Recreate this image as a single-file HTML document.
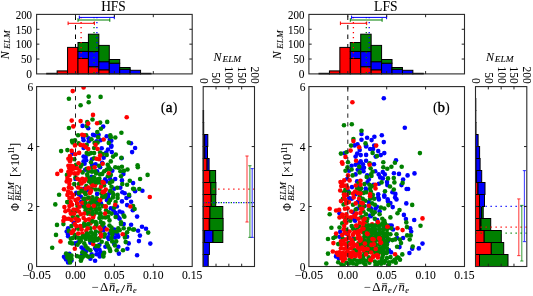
<!DOCTYPE html>
<html><head><meta charset="utf-8"><style>
html,body{margin:0;padding:0;background:#fff;}
svg{display:block;font-family:"Liberation Serif", serif;will-change:transform;}
text{stroke:#000;stroke-width:0.06px;}
</style></head><body>
<svg xmlns="http://www.w3.org/2000/svg" width="533" height="296" viewBox="0 0 533 296" shape-rendering="auto">
<rect width="533" height="296" fill="#fff"/>
<text x="113.50" y="10.60" font-size="14.2" text-anchor="middle" textLength="24.6" lengthAdjust="spacingAndGlyphs" style="">HFS</text>
<line x1="75.50" y1="14.40" x2="75.50" y2="73.90" stroke="#000" stroke-width="1.0" stroke-dasharray="4.5 5.0" stroke-dashoffset="8.4"/>
<rect x="46.70" y="73.30" width="10.43" height="0.60" fill="#ff0000" stroke="#000" stroke-width="1.0"/>
<rect x="57.13" y="70.90" width="10.43" height="3.00" fill="#ff0000" stroke="#000" stroke-width="1.0"/>
<rect x="67.56" y="47.40" width="10.43" height="26.50" fill="#ff0000" stroke="#000" stroke-width="1.0"/>
<rect x="77.99" y="58.50" width="10.43" height="15.40" fill="#ff0000" stroke="#000" stroke-width="1.0"/>
<rect x="77.99" y="51.40" width="10.43" height="7.10" fill="#0000ff" stroke="#000" stroke-width="1.0"/>
<rect x="77.99" y="42.50" width="10.43" height="8.90" fill="#008000" stroke="#000" stroke-width="1.0"/>
<rect x="88.42" y="66.70" width="10.43" height="7.20" fill="#ff0000" stroke="#000" stroke-width="1.0"/>
<rect x="88.42" y="51.60" width="10.43" height="15.10" fill="#0000ff" stroke="#000" stroke-width="1.0"/>
<rect x="88.42" y="34.20" width="10.43" height="17.40" fill="#008000" stroke="#000" stroke-width="1.0"/>
<rect x="98.85" y="69.80" width="10.43" height="4.10" fill="#ff0000" stroke="#000" stroke-width="1.0"/>
<rect x="98.85" y="61.70" width="10.43" height="8.10" fill="#0000ff" stroke="#000" stroke-width="1.0"/>
<rect x="98.85" y="45.40" width="10.43" height="16.30" fill="#008000" stroke="#000" stroke-width="1.0"/>
<rect x="109.28" y="63.20" width="10.43" height="10.70" fill="#0000ff" stroke="#000" stroke-width="1.0"/>
<rect x="109.28" y="59.50" width="10.43" height="3.70" fill="#008000" stroke="#000" stroke-width="1.0"/>
<rect x="119.71" y="69.30" width="10.43" height="4.60" fill="#0000ff" stroke="#000" stroke-width="1.0"/>
<rect x="119.71" y="67.50" width="10.43" height="1.80" fill="#008000" stroke="#000" stroke-width="1.0"/>
<rect x="130.14" y="70.30" width="10.43" height="3.60" fill="#0000ff" stroke="#000" stroke-width="1.0"/>
<rect x="140.57" y="73.30" width="10.43" height="0.60" fill="#0000ff" stroke="#000" stroke-width="1.0"/>
<line x1="81.10" y1="14.40" x2="81.10" y2="73.90" stroke="#ff0000" stroke-width="1.3" stroke-dasharray="1.3 3.7" stroke-dashoffset="2.4"/>
<line x1="94.00" y1="14.40" x2="94.00" y2="73.90" stroke="#008000" stroke-width="1.3" stroke-dasharray="1.3 3.7" stroke-dashoffset="2.4"/>
<line x1="96.90" y1="14.40" x2="96.90" y2="73.90" stroke="#0000ff" stroke-width="1.3" stroke-dasharray="1.3 3.7" stroke-dashoffset="2.4"/>
<line x1="79.30" y1="17.40" x2="114.30" y2="17.40" stroke="#0000ff" stroke-width="1.0" />
<line x1="79.30" y1="15.60" x2="79.30" y2="19.20" stroke="#0000ff" stroke-width="1.0" />
<line x1="114.30" y1="15.60" x2="114.30" y2="19.20" stroke="#0000ff" stroke-width="1.0" />
<line x1="78.00" y1="20.00" x2="109.80" y2="20.00" stroke="#008000" stroke-width="1.0" />
<line x1="78.00" y1="18.20" x2="78.00" y2="21.80" stroke="#008000" stroke-width="1.0" />
<line x1="109.80" y1="18.20" x2="109.80" y2="21.80" stroke="#008000" stroke-width="1.0" />
<line x1="68.10" y1="23.30" x2="94.40" y2="23.30" stroke="#ff0000" stroke-width="1.0" />
<line x1="68.10" y1="21.50" x2="68.10" y2="25.10" stroke="#ff0000" stroke-width="1.0" />
<line x1="94.40" y1="21.50" x2="94.40" y2="25.10" stroke="#ff0000" stroke-width="1.0" />
<rect x="36.60" y="14.40" width="155.60" height="59.50" fill="none" stroke="#2a2a2a" stroke-width="1.1"/>
<line x1="36.60" y1="59.03" x2="39.40" y2="59.03" stroke="#222" stroke-width="1.0" />
<line x1="192.20" y1="59.03" x2="189.40" y2="59.03" stroke="#222" stroke-width="1.0" />
<line x1="36.60" y1="44.15" x2="39.40" y2="44.15" stroke="#222" stroke-width="1.0" />
<line x1="192.20" y1="44.15" x2="189.40" y2="44.15" stroke="#222" stroke-width="1.0" />
<line x1="36.60" y1="29.27" x2="39.40" y2="29.27" stroke="#222" stroke-width="1.0" />
<line x1="192.20" y1="29.27" x2="189.40" y2="29.27" stroke="#222" stroke-width="1.0" />
<line x1="75.50" y1="14.40" x2="75.50" y2="17.20" stroke="#222" stroke-width="1.0" />
<line x1="75.50" y1="73.90" x2="75.50" y2="71.10" stroke="#222" stroke-width="1.0" />
<line x1="114.40" y1="14.40" x2="114.40" y2="17.20" stroke="#222" stroke-width="1.0" />
<line x1="114.40" y1="73.90" x2="114.40" y2="71.10" stroke="#222" stroke-width="1.0" />
<line x1="153.30" y1="14.40" x2="153.30" y2="17.20" stroke="#222" stroke-width="1.0" />
<line x1="153.30" y1="73.90" x2="153.30" y2="71.10" stroke="#222" stroke-width="1.0" />
<text x="32.10" y="78.20" font-size="11.5" text-anchor="end"  style="">0</text>
<text x="32.10" y="63.33" font-size="11.5" text-anchor="end" textLength="11" lengthAdjust="spacingAndGlyphs" style="">50</text>
<text x="32.10" y="48.45" font-size="11.5" text-anchor="end" textLength="16.4" lengthAdjust="spacingAndGlyphs" style="">100</text>
<text x="32.10" y="33.57" font-size="11.5" text-anchor="end" textLength="16.4" lengthAdjust="spacingAndGlyphs" style="">150</text>
<text x="32.10" y="18.70" font-size="11.5" text-anchor="end" textLength="16.4" lengthAdjust="spacingAndGlyphs" style="">200</text>
<g transform="translate(8.90,59.5) rotate(-90)" font-style="italic"><text x="0.3" y="0" font-size="12">N</text><text x="10.6" y="1.4" font-size="8.6" textLength="18.6" lengthAdjust="spacingAndGlyphs">ELM</text></g>
<clipPath id="cL"><rect x="36.60" y="86.60" width="155.60" height="179.90"/></clipPath>
<g clip-path="url(#cL)">
<circle cx="82.6" cy="125.9" r="2.3" fill="#0000ff"/>
<circle cx="88.2" cy="128.2" r="2.3" fill="#0000ff"/>
<circle cx="83.1" cy="137.8" r="2.3" fill="#0000ff"/>
<circle cx="83.6" cy="140.3" r="2.3" fill="#0000ff"/>
<circle cx="88.7" cy="138.3" r="2.3" fill="#0000ff"/>
<circle cx="88.7" cy="141.3" r="2.3" fill="#0000ff"/>
<circle cx="103.2" cy="126.6" r="2.3" fill="#0000ff"/>
<circle cx="93.0" cy="134.8" r="2.3" fill="#0000ff"/>
<circle cx="94.6" cy="135.3" r="2.3" fill="#0000ff"/>
<circle cx="98.6" cy="134.8" r="2.3" fill="#0000ff"/>
<circle cx="106.7" cy="136.3" r="2.3" fill="#0000ff"/>
<circle cx="100.6" cy="140.3" r="2.3" fill="#0000ff"/>
<circle cx="109.8" cy="139.8" r="2.3" fill="#0000ff"/>
<circle cx="111.3" cy="140.8" r="2.3" fill="#0000ff"/>
<circle cx="96.6" cy="141.3" r="2.3" fill="#0000ff"/>
<circle cx="131.0" cy="143.2" r="2.3" fill="#0000ff"/>
<circle cx="111.3" cy="145.6" r="2.3" fill="#0000ff"/>
<circle cx="83.6" cy="156.6" r="2.3" fill="#0000ff"/>
<circle cx="85.7" cy="157.1" r="2.3" fill="#0000ff"/>
<circle cx="83.6" cy="161.2" r="2.3" fill="#0000ff"/>
<circle cx="86.2" cy="160.2" r="2.3" fill="#0000ff"/>
<circle cx="84.6" cy="163.7" r="2.3" fill="#0000ff"/>
<circle cx="83.6" cy="148.0" r="2.3" fill="#0000ff"/>
<circle cx="72.5" cy="153.6" r="2.3" fill="#0000ff"/>
<circle cx="85.2" cy="169.8" r="2.3" fill="#0000ff"/>
<circle cx="101.7" cy="148.2" r="2.3" fill="#0000ff"/>
<circle cx="108.0" cy="149.5" r="2.3" fill="#0000ff"/>
<circle cx="111.3" cy="146.8" r="2.3" fill="#0000ff"/>
<circle cx="111.8" cy="152.1" r="2.3" fill="#0000ff"/>
<circle cx="106.2" cy="152.6" r="2.3" fill="#0000ff"/>
<circle cx="103.7" cy="157.7" r="2.3" fill="#0000ff"/>
<circle cx="92.0" cy="159.2" r="2.3" fill="#0000ff"/>
<circle cx="121.6" cy="158.2" r="2.3" fill="#0000ff"/>
<circle cx="135.1" cy="148.0" r="2.3" fill="#0000ff"/>
<circle cx="132.1" cy="152.1" r="2.3" fill="#0000ff"/>
<circle cx="102.2" cy="162.7" r="2.3" fill="#0000ff"/>
<circle cx="92.0" cy="164.8" r="2.3" fill="#0000ff"/>
<circle cx="95.6" cy="164.2" r="2.3" fill="#0000ff"/>
<circle cx="100.1" cy="167.3" r="2.3" fill="#0000ff"/>
<circle cx="112.3" cy="170.8" r="2.3" fill="#0000ff"/>
<circle cx="123.4" cy="173.9" r="2.3" fill="#0000ff"/>
<circle cx="97.1" cy="171.3" r="2.3" fill="#0000ff"/>
<circle cx="75.5" cy="179.0" r="2.3" fill="#0000ff"/>
<circle cx="91.7" cy="176.7" r="2.3" fill="#0000ff"/>
<circle cx="88.0" cy="190.2" r="2.3" fill="#0000ff"/>
<circle cx="84.0" cy="188.8" r="2.3" fill="#0000ff"/>
<circle cx="76.2" cy="192.9" r="2.3" fill="#0000ff"/>
<circle cx="78.9" cy="194.2" r="2.3" fill="#0000ff"/>
<circle cx="97.1" cy="193.9" r="2.3" fill="#0000ff"/>
<circle cx="80.9" cy="196.7" r="2.3" fill="#0000ff"/>
<circle cx="81.3" cy="201.7" r="2.3" fill="#0000ff"/>
<circle cx="82.3" cy="205.5" r="2.3" fill="#0000ff"/>
<circle cx="96.5" cy="200.7" r="2.3" fill="#0000ff"/>
<circle cx="105.1" cy="179.4" r="2.3" fill="#0000ff"/>
<circle cx="106.4" cy="181.4" r="2.3" fill="#0000ff"/>
<circle cx="110.2" cy="179.0" r="2.3" fill="#0000ff"/>
<circle cx="115.2" cy="179.0" r="2.3" fill="#0000ff"/>
<circle cx="114.2" cy="188.8" r="2.3" fill="#0000ff"/>
<circle cx="109.5" cy="192.9" r="2.3" fill="#0000ff"/>
<circle cx="120.3" cy="187.8" r="2.3" fill="#0000ff"/>
<circle cx="122.0" cy="180.4" r="2.3" fill="#0000ff"/>
<circle cx="133.1" cy="183.1" r="2.3" fill="#0000ff"/>
<circle cx="122.3" cy="192.2" r="2.3" fill="#0000ff"/>
<circle cx="124.7" cy="193.2" r="2.3" fill="#0000ff"/>
<circle cx="107.8" cy="195.3" r="2.3" fill="#0000ff"/>
<circle cx="101.0" cy="203.4" r="2.3" fill="#0000ff"/>
<circle cx="106.8" cy="200.1" r="2.3" fill="#0000ff"/>
<circle cx="108.1" cy="197.4" r="2.3" fill="#0000ff"/>
<circle cx="110.8" cy="208.2" r="2.3" fill="#0000ff"/>
<circle cx="113.5" cy="210.2" r="2.3" fill="#0000ff"/>
<circle cx="115.2" cy="212.9" r="2.3" fill="#0000ff"/>
<circle cx="119.6" cy="211.5" r="2.3" fill="#0000ff"/>
<circle cx="122.3" cy="212.6" r="2.3" fill="#0000ff"/>
<circle cx="116.9" cy="214.9" r="2.3" fill="#0000ff"/>
<circle cx="122.0" cy="201.4" r="2.3" fill="#0000ff"/>
<circle cx="131.1" cy="201.7" r="2.3" fill="#0000ff"/>
<circle cx="127.1" cy="205.1" r="2.3" fill="#0000ff"/>
<circle cx="126.4" cy="198.0" r="2.3" fill="#0000ff"/>
<circle cx="129.1" cy="196.3" r="2.3" fill="#0000ff"/>
<circle cx="116.9" cy="206.5" r="2.3" fill="#0000ff"/>
<circle cx="132.8" cy="210.2" r="2.3" fill="#0000ff"/>
<circle cx="68.1" cy="228.2" r="2.3" fill="#0000ff"/>
<circle cx="66.7" cy="231.5" r="2.3" fill="#0000ff"/>
<circle cx="68.1" cy="234.2" r="2.3" fill="#0000ff"/>
<circle cx="73.8" cy="222.8" r="2.3" fill="#0000ff"/>
<circle cx="95.1" cy="234.2" r="2.3" fill="#0000ff"/>
<circle cx="118.3" cy="217.4" r="2.3" fill="#0000ff"/>
<circle cx="119.6" cy="218.7" r="2.3" fill="#0000ff"/>
<circle cx="123.7" cy="224.1" r="2.3" fill="#0000ff"/>
<circle cx="131.1" cy="224.8" r="2.3" fill="#0000ff"/>
<circle cx="104.4" cy="227.5" r="2.3" fill="#0000ff"/>
<circle cx="103.4" cy="230.2" r="2.3" fill="#0000ff"/>
<circle cx="109.5" cy="233.6" r="2.3" fill="#0000ff"/>
<circle cx="115.6" cy="232.9" r="2.3" fill="#0000ff"/>
<circle cx="117.6" cy="234.9" r="2.3" fill="#0000ff"/>
<circle cx="114.2" cy="229.5" r="2.3" fill="#0000ff"/>
<circle cx="68.1" cy="236.3" r="2.3" fill="#0000ff"/>
<circle cx="75.2" cy="243.4" r="2.3" fill="#0000ff"/>
<circle cx="78.2" cy="242.4" r="2.3" fill="#0000ff"/>
<circle cx="81.6" cy="247.5" r="2.3" fill="#0000ff"/>
<circle cx="83.6" cy="249.5" r="2.3" fill="#0000ff"/>
<circle cx="86.3" cy="250.9" r="2.3" fill="#0000ff"/>
<circle cx="90.4" cy="242.8" r="2.3" fill="#0000ff"/>
<circle cx="95.1" cy="248.2" r="2.3" fill="#0000ff"/>
<circle cx="96.5" cy="250.2" r="2.3" fill="#0000ff"/>
<circle cx="96.5" cy="254.2" r="2.3" fill="#0000ff"/>
<circle cx="91.7" cy="254.2" r="2.3" fill="#0000ff"/>
<circle cx="69.4" cy="253.9" r="2.3" fill="#0000ff"/>
<circle cx="82.3" cy="254.6" r="2.3" fill="#0000ff"/>
<circle cx="108.1" cy="237.4" r="2.3" fill="#0000ff"/>
<circle cx="108.8" cy="239.0" r="2.3" fill="#0000ff"/>
<circle cx="114.9" cy="237.4" r="2.3" fill="#0000ff"/>
<circle cx="118.3" cy="236.7" r="2.3" fill="#0000ff"/>
<circle cx="114.2" cy="244.1" r="2.3" fill="#0000ff"/>
<circle cx="118.3" cy="246.8" r="2.3" fill="#0000ff"/>
<circle cx="105.4" cy="246.8" r="2.3" fill="#0000ff"/>
<circle cx="128.7" cy="243.4" r="2.3" fill="#0000ff"/>
<circle cx="127.4" cy="248.8" r="2.3" fill="#0000ff"/>
<circle cx="118.9" cy="253.6" r="2.3" fill="#0000ff"/>
<circle cx="127.1" cy="236.7" r="2.3" fill="#0000ff"/>
<circle cx="99.4" cy="244.8" r="2.3" fill="#0000ff"/>
<circle cx="99.4" cy="249.5" r="2.3" fill="#0000ff"/>
<circle cx="100.7" cy="252.2" r="2.3" fill="#0000ff"/>
<circle cx="98.7" cy="254.2" r="2.3" fill="#0000ff"/>
<circle cx="64.0" cy="256.8" r="2.3" fill="#0000ff"/>
<circle cx="66.1" cy="259.5" r="2.3" fill="#0000ff"/>
<circle cx="71.5" cy="260.5" r="2.3" fill="#0000ff"/>
<circle cx="68.1" cy="262.5" r="2.3" fill="#0000ff"/>
<circle cx="65.4" cy="258.1" r="2.3" fill="#0000ff"/>
<circle cx="90.4" cy="258.8" r="2.3" fill="#0000ff"/>
<circle cx="95.1" cy="260.8" r="2.3" fill="#0000ff"/>
<circle cx="99.7" cy="256.4" r="2.3" fill="#0000ff"/>
<circle cx="135.1" cy="191.2" r="2.3" fill="#0000ff"/>
<circle cx="142.4" cy="190.7" r="2.3" fill="#0000ff"/>
<circle cx="137.1" cy="216.6" r="2.3" fill="#0000ff"/>
<circle cx="138.1" cy="230.8" r="2.3" fill="#0000ff"/>
<circle cx="142.0" cy="226.8" r="2.3" fill="#0000ff"/>
<circle cx="146.0" cy="228.8" r="2.3" fill="#0000ff"/>
<circle cx="139.9" cy="235.6" r="2.3" fill="#0000ff"/>
<circle cx="138.9" cy="241.1" r="2.3" fill="#0000ff"/>
<circle cx="150.3" cy="243.6" r="2.3" fill="#0000ff"/>
<circle cx="137.1" cy="255.3" r="2.3" fill="#0000ff"/>
<circle cx="68.9" cy="98.7" r="2.3" fill="#008000"/>
<circle cx="80.6" cy="105.3" r="2.3" fill="#008000"/>
<circle cx="88.7" cy="96.6" r="2.3" fill="#008000"/>
<circle cx="88.7" cy="102.2" r="2.3" fill="#008000"/>
<circle cx="100.6" cy="96.9" r="2.3" fill="#008000"/>
<circle cx="68.9" cy="128.0" r="2.3" fill="#008000"/>
<circle cx="87.2" cy="122.1" r="2.3" fill="#008000"/>
<circle cx="86.7" cy="126.1" r="2.3" fill="#008000"/>
<circle cx="78.1" cy="135.3" r="2.3" fill="#008000"/>
<circle cx="86.2" cy="135.3" r="2.3" fill="#008000"/>
<circle cx="72.0" cy="140.8" r="2.3" fill="#008000"/>
<circle cx="75.0" cy="140.3" r="2.3" fill="#008000"/>
<circle cx="72.5" cy="142.4" r="2.3" fill="#008000"/>
<circle cx="78.6" cy="143.4" r="2.3" fill="#008000"/>
<circle cx="86.7" cy="144.9" r="2.3" fill="#008000"/>
<circle cx="92.5" cy="119.5" r="2.3" fill="#008000"/>
<circle cx="100.1" cy="122.6" r="2.3" fill="#008000"/>
<circle cx="107.2" cy="121.9" r="2.3" fill="#008000"/>
<circle cx="100.9" cy="128.7" r="2.3" fill="#008000"/>
<circle cx="97.3" cy="132.0" r="2.3" fill="#008000"/>
<circle cx="98.1" cy="137.3" r="2.3" fill="#008000"/>
<circle cx="91.5" cy="139.3" r="2.3" fill="#008000"/>
<circle cx="110.3" cy="135.3" r="2.3" fill="#008000"/>
<circle cx="110.8" cy="137.3" r="2.3" fill="#008000"/>
<circle cx="115.3" cy="137.5" r="2.3" fill="#008000"/>
<circle cx="108.8" cy="142.9" r="2.3" fill="#008000"/>
<circle cx="94.6" cy="142.9" r="2.3" fill="#008000"/>
<circle cx="97.6" cy="142.6" r="2.3" fill="#008000"/>
<circle cx="121.4" cy="132.7" r="2.3" fill="#008000"/>
<circle cx="128.8" cy="142.6" r="2.3" fill="#008000"/>
<circle cx="61.1" cy="151.1" r="2.3" fill="#008000"/>
<circle cx="67.4" cy="150.1" r="2.3" fill="#008000"/>
<circle cx="74.3" cy="159.2" r="2.3" fill="#008000"/>
<circle cx="86.7" cy="153.1" r="2.3" fill="#008000"/>
<circle cx="88.7" cy="154.1" r="2.3" fill="#008000"/>
<circle cx="76.0" cy="164.8" r="2.3" fill="#008000"/>
<circle cx="81.6" cy="164.8" r="2.3" fill="#008000"/>
<circle cx="80.6" cy="166.8" r="2.3" fill="#008000"/>
<circle cx="66.9" cy="174.9" r="2.3" fill="#008000"/>
<circle cx="86.7" cy="168.8" r="2.3" fill="#008000"/>
<circle cx="88.7" cy="171.3" r="2.3" fill="#008000"/>
<circle cx="87.2" cy="174.4" r="2.3" fill="#008000"/>
<circle cx="82.6" cy="172.4" r="2.3" fill="#008000"/>
<circle cx="94.1" cy="148.0" r="2.3" fill="#008000"/>
<circle cx="106.7" cy="154.9" r="2.3" fill="#008000"/>
<circle cx="91.0" cy="153.1" r="2.3" fill="#008000"/>
<circle cx="94.1" cy="153.1" r="2.3" fill="#008000"/>
<circle cx="100.1" cy="152.6" r="2.3" fill="#008000"/>
<circle cx="102.7" cy="154.1" r="2.3" fill="#008000"/>
<circle cx="94.1" cy="158.2" r="2.3" fill="#008000"/>
<circle cx="113.1" cy="156.6" r="2.3" fill="#008000"/>
<circle cx="115.8" cy="154.6" r="2.3" fill="#008000"/>
<circle cx="121.4" cy="157.7" r="2.3" fill="#008000"/>
<circle cx="110.8" cy="161.4" r="2.3" fill="#008000"/>
<circle cx="91.0" cy="162.2" r="2.3" fill="#008000"/>
<circle cx="99.1" cy="165.8" r="2.3" fill="#008000"/>
<circle cx="92.0" cy="167.8" r="2.3" fill="#008000"/>
<circle cx="107.7" cy="164.8" r="2.3" fill="#008000"/>
<circle cx="108.8" cy="167.3" r="2.3" fill="#008000"/>
<circle cx="106.7" cy="169.8" r="2.3" fill="#008000"/>
<circle cx="104.2" cy="171.3" r="2.3" fill="#008000"/>
<circle cx="110.3" cy="169.3" r="2.3" fill="#008000"/>
<circle cx="115.3" cy="167.3" r="2.3" fill="#008000"/>
<circle cx="118.4" cy="167.8" r="2.3" fill="#008000"/>
<circle cx="121.9" cy="166.8" r="2.3" fill="#008000"/>
<circle cx="120.4" cy="171.3" r="2.3" fill="#008000"/>
<circle cx="124.0" cy="170.8" r="2.3" fill="#008000"/>
<circle cx="127.5" cy="169.5" r="2.3" fill="#008000"/>
<circle cx="137.6" cy="165.3" r="2.3" fill="#008000"/>
<circle cx="137.8" cy="167.3" r="2.3" fill="#008000"/>
<circle cx="95.1" cy="171.3" r="2.3" fill="#008000"/>
<circle cx="96.1" cy="173.4" r="2.3" fill="#008000"/>
<circle cx="100.1" cy="174.4" r="2.3" fill="#008000"/>
<circle cx="92.0" cy="171.8" r="2.3" fill="#008000"/>
<circle cx="102.2" cy="173.9" r="2.3" fill="#008000"/>
<circle cx="110.8" cy="174.9" r="2.3" fill="#008000"/>
<circle cx="147.6" cy="174.9" r="2.3" fill="#008000"/>
<circle cx="59.1" cy="194.8" r="2.3" fill="#008000"/>
<circle cx="55.3" cy="204.4" r="2.3" fill="#008000"/>
<circle cx="67.4" cy="202.1" r="2.3" fill="#008000"/>
<circle cx="75.5" cy="177.4" r="2.3" fill="#008000"/>
<circle cx="74.2" cy="184.1" r="2.3" fill="#008000"/>
<circle cx="78.9" cy="184.1" r="2.3" fill="#008000"/>
<circle cx="86.3" cy="186.1" r="2.3" fill="#008000"/>
<circle cx="89.0" cy="181.4" r="2.3" fill="#008000"/>
<circle cx="93.1" cy="180.1" r="2.3" fill="#008000"/>
<circle cx="94.4" cy="178.0" r="2.3" fill="#008000"/>
<circle cx="87.7" cy="176.7" r="2.3" fill="#008000"/>
<circle cx="95.8" cy="189.5" r="2.3" fill="#008000"/>
<circle cx="97.1" cy="182.8" r="2.3" fill="#008000"/>
<circle cx="78.9" cy="192.9" r="2.3" fill="#008000"/>
<circle cx="85.6" cy="194.2" r="2.3" fill="#008000"/>
<circle cx="91.7" cy="188.2" r="2.3" fill="#008000"/>
<circle cx="67.4" cy="202.1" r="2.3" fill="#008000"/>
<circle cx="72.1" cy="211.9" r="2.3" fill="#008000"/>
<circle cx="77.5" cy="206.1" r="2.3" fill="#008000"/>
<circle cx="76.2" cy="210.9" r="2.3" fill="#008000"/>
<circle cx="83.6" cy="198.7" r="2.3" fill="#008000"/>
<circle cx="84.3" cy="206.8" r="2.3" fill="#008000"/>
<circle cx="85.6" cy="210.2" r="2.3" fill="#008000"/>
<circle cx="90.4" cy="202.1" r="2.3" fill="#008000"/>
<circle cx="94.4" cy="201.4" r="2.3" fill="#008000"/>
<circle cx="95.8" cy="204.8" r="2.3" fill="#008000"/>
<circle cx="95.8" cy="209.5" r="2.3" fill="#008000"/>
<circle cx="92.4" cy="211.5" r="2.3" fill="#008000"/>
<circle cx="87.7" cy="213.6" r="2.3" fill="#008000"/>
<circle cx="97.1" cy="198.7" r="2.3" fill="#008000"/>
<circle cx="92.4" cy="197.4" r="2.3" fill="#008000"/>
<circle cx="99.4" cy="178.7" r="2.3" fill="#008000"/>
<circle cx="100.7" cy="182.8" r="2.3" fill="#008000"/>
<circle cx="99.4" cy="189.5" r="2.3" fill="#008000"/>
<circle cx="101.4" cy="193.6" r="2.3" fill="#008000"/>
<circle cx="104.1" cy="185.5" r="2.3" fill="#008000"/>
<circle cx="105.4" cy="194.9" r="2.3" fill="#008000"/>
<circle cx="107.8" cy="176.3" r="2.3" fill="#008000"/>
<circle cx="109.5" cy="176.0" r="2.3" fill="#008000"/>
<circle cx="112.2" cy="181.4" r="2.3" fill="#008000"/>
<circle cx="109.8" cy="183.1" r="2.3" fill="#008000"/>
<circle cx="111.5" cy="186.8" r="2.3" fill="#008000"/>
<circle cx="110.2" cy="190.9" r="2.3" fill="#008000"/>
<circle cx="112.5" cy="192.6" r="2.3" fill="#008000"/>
<circle cx="113.5" cy="194.9" r="2.3" fill="#008000"/>
<circle cx="117.3" cy="187.8" r="2.3" fill="#008000"/>
<circle cx="121.0" cy="176.3" r="2.3" fill="#008000"/>
<circle cx="122.3" cy="184.1" r="2.3" fill="#008000"/>
<circle cx="129.8" cy="180.7" r="2.3" fill="#008000"/>
<circle cx="127.1" cy="184.8" r="2.3" fill="#008000"/>
<circle cx="133.1" cy="188.8" r="2.3" fill="#008000"/>
<circle cx="117.6" cy="194.9" r="2.3" fill="#008000"/>
<circle cx="129.1" cy="194.9" r="2.3" fill="#008000"/>
<circle cx="98.7" cy="204.1" r="2.3" fill="#008000"/>
<circle cx="99.4" cy="209.5" r="2.3" fill="#008000"/>
<circle cx="100.0" cy="214.2" r="2.3" fill="#008000"/>
<circle cx="102.1" cy="197.4" r="2.3" fill="#008000"/>
<circle cx="104.8" cy="196.7" r="2.3" fill="#008000"/>
<circle cx="102.7" cy="206.1" r="2.3" fill="#008000"/>
<circle cx="108.8" cy="202.8" r="2.3" fill="#008000"/>
<circle cx="110.2" cy="200.1" r="2.3" fill="#008000"/>
<circle cx="112.9" cy="197.4" r="2.3" fill="#008000"/>
<circle cx="117.6" cy="198.0" r="2.3" fill="#008000"/>
<circle cx="106.1" cy="210.2" r="2.3" fill="#008000"/>
<circle cx="108.8" cy="212.2" r="2.3" fill="#008000"/>
<circle cx="111.5" cy="213.6" r="2.3" fill="#008000"/>
<circle cx="115.6" cy="202.1" r="2.3" fill="#008000"/>
<circle cx="114.2" cy="207.5" r="2.3" fill="#008000"/>
<circle cx="123.7" cy="215.6" r="2.3" fill="#008000"/>
<circle cx="133.1" cy="206.1" r="2.3" fill="#008000"/>
<circle cx="63.4" cy="224.1" r="2.3" fill="#008000"/>
<circle cx="71.5" cy="226.1" r="2.3" fill="#008000"/>
<circle cx="72.8" cy="216.7" r="2.3" fill="#008000"/>
<circle cx="77.5" cy="216.7" r="2.3" fill="#008000"/>
<circle cx="78.2" cy="228.8" r="2.3" fill="#008000"/>
<circle cx="84.3" cy="223.4" r="2.3" fill="#008000"/>
<circle cx="82.9" cy="226.1" r="2.3" fill="#008000"/>
<circle cx="85.6" cy="225.5" r="2.3" fill="#008000"/>
<circle cx="68.8" cy="230.9" r="2.3" fill="#008000"/>
<circle cx="95.8" cy="222.1" r="2.3" fill="#008000"/>
<circle cx="95.8" cy="226.1" r="2.3" fill="#008000"/>
<circle cx="95.8" cy="231.5" r="2.3" fill="#008000"/>
<circle cx="91.1" cy="232.2" r="2.3" fill="#008000"/>
<circle cx="87.7" cy="234.2" r="2.3" fill="#008000"/>
<circle cx="93.8" cy="234.2" r="2.3" fill="#008000"/>
<circle cx="74.8" cy="234.9" r="2.3" fill="#008000"/>
<circle cx="85.0" cy="235.6" r="2.3" fill="#008000"/>
<circle cx="90.4" cy="228.2" r="2.3" fill="#008000"/>
<circle cx="99.4" cy="218.0" r="2.3" fill="#008000"/>
<circle cx="102.1" cy="217.4" r="2.3" fill="#008000"/>
<circle cx="105.4" cy="217.4" r="2.3" fill="#008000"/>
<circle cx="108.1" cy="216.7" r="2.3" fill="#008000"/>
<circle cx="109.5" cy="220.4" r="2.3" fill="#008000"/>
<circle cx="100.7" cy="222.1" r="2.3" fill="#008000"/>
<circle cx="103.4" cy="223.4" r="2.3" fill="#008000"/>
<circle cx="102.1" cy="225.5" r="2.3" fill="#008000"/>
<circle cx="109.5" cy="225.5" r="2.3" fill="#008000"/>
<circle cx="111.5" cy="227.5" r="2.3" fill="#008000"/>
<circle cx="110.8" cy="230.9" r="2.3" fill="#008000"/>
<circle cx="113.5" cy="231.5" r="2.3" fill="#008000"/>
<circle cx="112.2" cy="234.2" r="2.3" fill="#008000"/>
<circle cx="115.6" cy="217.0" r="2.3" fill="#008000"/>
<circle cx="124.4" cy="216.7" r="2.3" fill="#008000"/>
<circle cx="121.0" cy="222.4" r="2.3" fill="#008000"/>
<circle cx="121.0" cy="224.1" r="2.3" fill="#008000"/>
<circle cx="118.3" cy="228.2" r="2.3" fill="#008000"/>
<circle cx="119.6" cy="230.2" r="2.3" fill="#008000"/>
<circle cx="116.9" cy="231.5" r="2.3" fill="#008000"/>
<circle cx="123.7" cy="228.2" r="2.3" fill="#008000"/>
<circle cx="129.1" cy="228.8" r="2.3" fill="#008000"/>
<circle cx="127.1" cy="232.2" r="2.3" fill="#008000"/>
<circle cx="133.1" cy="229.5" r="2.3" fill="#008000"/>
<circle cx="100.0" cy="232.2" r="2.3" fill="#008000"/>
<circle cx="104.8" cy="234.2" r="2.3" fill="#008000"/>
<circle cx="125.0" cy="234.9" r="2.3" fill="#008000"/>
<circle cx="70.8" cy="238.7" r="2.3" fill="#008000"/>
<circle cx="72.8" cy="238.0" r="2.3" fill="#008000"/>
<circle cx="70.1" cy="242.8" r="2.3" fill="#008000"/>
<circle cx="72.1" cy="243.4" r="2.3" fill="#008000"/>
<circle cx="77.5" cy="244.8" r="2.3" fill="#008000"/>
<circle cx="76.2" cy="237.4" r="2.3" fill="#008000"/>
<circle cx="78.9" cy="238.0" r="2.3" fill="#008000"/>
<circle cx="80.9" cy="240.7" r="2.3" fill="#008000"/>
<circle cx="82.3" cy="237.4" r="2.3" fill="#008000"/>
<circle cx="85.6" cy="236.7" r="2.3" fill="#008000"/>
<circle cx="89.0" cy="237.4" r="2.3" fill="#008000"/>
<circle cx="92.4" cy="238.7" r="2.3" fill="#008000"/>
<circle cx="95.1" cy="238.0" r="2.3" fill="#008000"/>
<circle cx="97.1" cy="240.1" r="2.3" fill="#008000"/>
<circle cx="84.3" cy="243.4" r="2.3" fill="#008000"/>
<circle cx="85.6" cy="246.1" r="2.3" fill="#008000"/>
<circle cx="87.7" cy="248.2" r="2.3" fill="#008000"/>
<circle cx="90.4" cy="250.2" r="2.3" fill="#008000"/>
<circle cx="82.3" cy="252.2" r="2.3" fill="#008000"/>
<circle cx="85.0" cy="253.6" r="2.3" fill="#008000"/>
<circle cx="86.3" cy="255.6" r="2.3" fill="#008000"/>
<circle cx="66.1" cy="253.6" r="2.3" fill="#008000"/>
<circle cx="68.1" cy="254.9" r="2.3" fill="#008000"/>
<circle cx="71.5" cy="255.6" r="2.3" fill="#008000"/>
<circle cx="95.8" cy="246.1" r="2.3" fill="#008000"/>
<circle cx="79.6" cy="242.1" r="2.3" fill="#008000"/>
<circle cx="99.4" cy="238.0" r="2.3" fill="#008000"/>
<circle cx="104.1" cy="236.7" r="2.3" fill="#008000"/>
<circle cx="101.7" cy="241.7" r="2.3" fill="#008000"/>
<circle cx="106.8" cy="243.4" r="2.3" fill="#008000"/>
<circle cx="108.1" cy="246.1" r="2.3" fill="#008000"/>
<circle cx="109.5" cy="248.5" r="2.3" fill="#008000"/>
<circle cx="110.2" cy="250.9" r="2.3" fill="#008000"/>
<circle cx="111.5" cy="238.0" r="2.3" fill="#008000"/>
<circle cx="112.2" cy="241.4" r="2.3" fill="#008000"/>
<circle cx="116.2" cy="241.4" r="2.3" fill="#008000"/>
<circle cx="114.9" cy="245.5" r="2.3" fill="#008000"/>
<circle cx="116.6" cy="250.2" r="2.3" fill="#008000"/>
<circle cx="123.0" cy="250.2" r="2.3" fill="#008000"/>
<circle cx="125.0" cy="237.4" r="2.3" fill="#008000"/>
<circle cx="125.7" cy="242.1" r="2.3" fill="#008000"/>
<circle cx="104.1" cy="252.9" r="2.3" fill="#008000"/>
<circle cx="103.1" cy="254.9" r="2.3" fill="#008000"/>
<circle cx="98.3" cy="246.1" r="2.3" fill="#008000"/>
<circle cx="67.4" cy="257.4" r="2.3" fill="#008000"/>
<circle cx="70.8" cy="256.8" r="2.3" fill="#008000"/>
<circle cx="69.4" cy="260.1" r="2.3" fill="#008000"/>
<circle cx="70.1" cy="262.5" r="2.3" fill="#008000"/>
<circle cx="71.5" cy="258.8" r="2.3" fill="#008000"/>
<circle cx="76.9" cy="256.1" r="2.3" fill="#008000"/>
<circle cx="79.6" cy="256.8" r="2.3" fill="#008000"/>
<circle cx="81.6" cy="258.8" r="2.3" fill="#008000"/>
<circle cx="80.9" cy="260.8" r="2.3" fill="#008000"/>
<circle cx="82.9" cy="256.8" r="2.3" fill="#008000"/>
<circle cx="88.4" cy="256.8" r="2.3" fill="#008000"/>
<circle cx="92.4" cy="256.1" r="2.3" fill="#008000"/>
<circle cx="103.4" cy="256.4" r="2.3" fill="#008000"/>
<circle cx="57.0" cy="224.9" r="2.3" fill="#008000"/>
<circle cx="56.0" cy="234.9" r="2.3" fill="#008000"/>
<circle cx="52.2" cy="247.8" r="2.3" fill="#008000"/>
<circle cx="140.1" cy="179.0" r="2.3" fill="#008000"/>
<circle cx="134.1" cy="189.0" r="2.3" fill="#008000"/>
<circle cx="139.3" cy="189.0" r="2.3" fill="#008000"/>
<circle cx="134.6" cy="209.0" r="2.3" fill="#008000"/>
<circle cx="134.1" cy="229.5" r="2.3" fill="#008000"/>
<circle cx="148.2" cy="232.6" r="2.3" fill="#008000"/>
<line x1="75.50" y1="86.60" x2="75.50" y2="266.50" stroke="#222" stroke-width="1.0" stroke-dasharray="4.3 4.42" stroke-dashoffset="8.02"/>
<circle cx="72.7" cy="91.1" r="2.3" fill="#ff0000"/>
<circle cx="83.6" cy="87.5" r="2.3" fill="#ff0000"/>
<circle cx="93.0" cy="114.9" r="2.3" fill="#ff0000"/>
<circle cx="71.7" cy="120.6" r="2.3" fill="#ff0000"/>
<circle cx="80.6" cy="121.1" r="2.3" fill="#ff0000"/>
<circle cx="73.3" cy="126.4" r="2.3" fill="#ff0000"/>
<circle cx="88.2" cy="123.6" r="2.3" fill="#ff0000"/>
<circle cx="82.1" cy="134.8" r="2.3" fill="#ff0000"/>
<circle cx="84.1" cy="135.3" r="2.3" fill="#ff0000"/>
<circle cx="75.0" cy="145.4" r="2.3" fill="#ff0000"/>
<circle cx="80.6" cy="144.9" r="2.3" fill="#ff0000"/>
<circle cx="83.6" cy="145.4" r="2.3" fill="#ff0000"/>
<circle cx="126.7" cy="117.2" r="2.3" fill="#ff0000"/>
<circle cx="97.1" cy="123.3" r="2.3" fill="#ff0000"/>
<circle cx="103.7" cy="139.5" r="2.3" fill="#ff0000"/>
<circle cx="95.6" cy="144.9" r="2.3" fill="#ff0000"/>
<circle cx="71.7" cy="150.9" r="2.3" fill="#ff0000"/>
<circle cx="75.3" cy="154.3" r="2.3" fill="#ff0000"/>
<circle cx="79.1" cy="152.9" r="2.3" fill="#ff0000"/>
<circle cx="70.0" cy="156.1" r="2.3" fill="#ff0000"/>
<circle cx="68.4" cy="158.7" r="2.3" fill="#ff0000"/>
<circle cx="71.0" cy="158.7" r="2.3" fill="#ff0000"/>
<circle cx="70.0" cy="161.2" r="2.3" fill="#ff0000"/>
<circle cx="85.7" cy="147.0" r="2.3" fill="#ff0000"/>
<circle cx="88.2" cy="149.0" r="2.3" fill="#ff0000"/>
<circle cx="78.6" cy="163.2" r="2.3" fill="#ff0000"/>
<circle cx="68.4" cy="165.8" r="2.3" fill="#ff0000"/>
<circle cx="71.0" cy="165.8" r="2.3" fill="#ff0000"/>
<circle cx="73.0" cy="166.3" r="2.3" fill="#ff0000"/>
<circle cx="69.4" cy="168.3" r="2.3" fill="#ff0000"/>
<circle cx="71.5" cy="169.3" r="2.3" fill="#ff0000"/>
<circle cx="73.5" cy="168.8" r="2.3" fill="#ff0000"/>
<circle cx="77.0" cy="168.3" r="2.3" fill="#ff0000"/>
<circle cx="79.6" cy="170.8" r="2.3" fill="#ff0000"/>
<circle cx="77.6" cy="173.4" r="2.3" fill="#ff0000"/>
<circle cx="68.4" cy="171.8" r="2.3" fill="#ff0000"/>
<circle cx="71.0" cy="172.9" r="2.3" fill="#ff0000"/>
<circle cx="69.4" cy="174.9" r="2.3" fill="#ff0000"/>
<circle cx="61.1" cy="170.8" r="2.3" fill="#ff0000"/>
<circle cx="57.3" cy="173.9" r="2.3" fill="#ff0000"/>
<circle cx="88.7" cy="168.3" r="2.3" fill="#ff0000"/>
<circle cx="74.5" cy="173.4" r="2.3" fill="#ff0000"/>
<circle cx="97.6" cy="149.0" r="2.3" fill="#ff0000"/>
<circle cx="100.1" cy="155.6" r="2.3" fill="#ff0000"/>
<circle cx="96.6" cy="158.7" r="2.3" fill="#ff0000"/>
<circle cx="99.1" cy="159.2" r="2.3" fill="#ff0000"/>
<circle cx="102.7" cy="163.7" r="2.3" fill="#ff0000"/>
<circle cx="94.6" cy="167.3" r="2.3" fill="#ff0000"/>
<circle cx="108.8" cy="173.2" r="2.3" fill="#ff0000"/>
<circle cx="64.0" cy="189.2" r="2.3" fill="#ff0000"/>
<circle cx="67.4" cy="178.0" r="2.3" fill="#ff0000"/>
<circle cx="66.7" cy="181.4" r="2.3" fill="#ff0000"/>
<circle cx="70.1" cy="180.1" r="2.3" fill="#ff0000"/>
<circle cx="69.4" cy="184.1" r="2.3" fill="#ff0000"/>
<circle cx="68.8" cy="187.5" r="2.3" fill="#ff0000"/>
<circle cx="71.5" cy="188.2" r="2.3" fill="#ff0000"/>
<circle cx="68.1" cy="191.5" r="2.3" fill="#ff0000"/>
<circle cx="70.8" cy="192.9" r="2.3" fill="#ff0000"/>
<circle cx="67.4" cy="194.9" r="2.3" fill="#ff0000"/>
<circle cx="72.8" cy="194.9" r="2.3" fill="#ff0000"/>
<circle cx="77.5" cy="178.7" r="2.3" fill="#ff0000"/>
<circle cx="79.6" cy="180.1" r="2.3" fill="#ff0000"/>
<circle cx="82.3" cy="178.7" r="2.3" fill="#ff0000"/>
<circle cx="84.3" cy="181.4" r="2.3" fill="#ff0000"/>
<circle cx="85.6" cy="179.4" r="2.3" fill="#ff0000"/>
<circle cx="81.6" cy="183.4" r="2.3" fill="#ff0000"/>
<circle cx="78.2" cy="187.5" r="2.3" fill="#ff0000"/>
<circle cx="80.9" cy="188.8" r="2.3" fill="#ff0000"/>
<circle cx="82.3" cy="191.5" r="2.3" fill="#ff0000"/>
<circle cx="85.6" cy="188.8" r="2.3" fill="#ff0000"/>
<circle cx="88.4" cy="187.5" r="2.3" fill="#ff0000"/>
<circle cx="91.1" cy="190.5" r="2.3" fill="#ff0000"/>
<circle cx="90.4" cy="192.2" r="2.3" fill="#ff0000"/>
<circle cx="91.7" cy="184.1" r="2.3" fill="#ff0000"/>
<circle cx="95.1" cy="185.5" r="2.3" fill="#ff0000"/>
<circle cx="64.4" cy="207.1" r="2.3" fill="#ff0000"/>
<circle cx="65.4" cy="211.2" r="2.3" fill="#ff0000"/>
<circle cx="69.4" cy="198.0" r="2.3" fill="#ff0000"/>
<circle cx="72.1" cy="197.4" r="2.3" fill="#ff0000"/>
<circle cx="70.8" cy="202.1" r="2.3" fill="#ff0000"/>
<circle cx="69.4" cy="206.1" r="2.3" fill="#ff0000"/>
<circle cx="68.8" cy="210.2" r="2.3" fill="#ff0000"/>
<circle cx="72.1" cy="204.8" r="2.3" fill="#ff0000"/>
<circle cx="73.5" cy="209.5" r="2.3" fill="#ff0000"/>
<circle cx="70.8" cy="213.6" r="2.3" fill="#ff0000"/>
<circle cx="74.2" cy="213.6" r="2.3" fill="#ff0000"/>
<circle cx="75.5" cy="200.1" r="2.3" fill="#ff0000"/>
<circle cx="78.2" cy="198.7" r="2.3" fill="#ff0000"/>
<circle cx="77.5" cy="203.4" r="2.3" fill="#ff0000"/>
<circle cx="79.6" cy="206.8" r="2.3" fill="#ff0000"/>
<circle cx="76.9" cy="209.5" r="2.3" fill="#ff0000"/>
<circle cx="78.9" cy="211.5" r="2.3" fill="#ff0000"/>
<circle cx="80.9" cy="214.2" r="2.3" fill="#ff0000"/>
<circle cx="82.3" cy="202.8" r="2.3" fill="#ff0000"/>
<circle cx="84.3" cy="202.8" r="2.3" fill="#ff0000"/>
<circle cx="86.3" cy="199.0" r="2.3" fill="#ff0000"/>
<circle cx="89.7" cy="198.4" r="2.3" fill="#ff0000"/>
<circle cx="89.0" cy="206.1" r="2.3" fill="#ff0000"/>
<circle cx="89.4" cy="209.5" r="2.3" fill="#ff0000"/>
<circle cx="93.8" cy="206.1" r="2.3" fill="#ff0000"/>
<circle cx="84.3" cy="213.6" r="2.3" fill="#ff0000"/>
<circle cx="90.4" cy="214.2" r="2.3" fill="#ff0000"/>
<circle cx="93.8" cy="214.9" r="2.3" fill="#ff0000"/>
<circle cx="103.7" cy="182.8" r="2.3" fill="#ff0000"/>
<circle cx="101.0" cy="186.8" r="2.3" fill="#ff0000"/>
<circle cx="105.8" cy="189.5" r="2.3" fill="#ff0000"/>
<circle cx="102.7" cy="191.9" r="2.3" fill="#ff0000"/>
<circle cx="104.4" cy="191.5" r="2.3" fill="#ff0000"/>
<circle cx="100.0" cy="200.1" r="2.3" fill="#ff0000"/>
<circle cx="105.8" cy="206.5" r="2.3" fill="#ff0000"/>
<circle cx="105.1" cy="213.6" r="2.3" fill="#ff0000"/>
<circle cx="115.2" cy="204.8" r="2.3" fill="#ff0000"/>
<circle cx="130.4" cy="206.5" r="2.3" fill="#ff0000"/>
<circle cx="64.0" cy="217.4" r="2.3" fill="#ff0000"/>
<circle cx="66.1" cy="218.7" r="2.3" fill="#ff0000"/>
<circle cx="63.4" cy="220.7" r="2.3" fill="#ff0000"/>
<circle cx="68.8" cy="218.7" r="2.3" fill="#ff0000"/>
<circle cx="71.5" cy="220.1" r="2.3" fill="#ff0000"/>
<circle cx="75.5" cy="218.7" r="2.3" fill="#ff0000"/>
<circle cx="77.5" cy="220.7" r="2.3" fill="#ff0000"/>
<circle cx="74.8" cy="224.1" r="2.3" fill="#ff0000"/>
<circle cx="76.2" cy="226.1" r="2.3" fill="#ff0000"/>
<circle cx="78.9" cy="220.1" r="2.3" fill="#ff0000"/>
<circle cx="80.2" cy="226.1" r="2.3" fill="#ff0000"/>
<circle cx="81.6" cy="229.5" r="2.3" fill="#ff0000"/>
<circle cx="82.3" cy="233.6" r="2.3" fill="#ff0000"/>
<circle cx="78.2" cy="233.6" r="2.3" fill="#ff0000"/>
<circle cx="72.8" cy="231.5" r="2.3" fill="#ff0000"/>
<circle cx="71.5" cy="232.9" r="2.3" fill="#ff0000"/>
<circle cx="73.5" cy="230.2" r="2.3" fill="#ff0000"/>
<circle cx="83.6" cy="218.0" r="2.3" fill="#ff0000"/>
<circle cx="85.6" cy="220.1" r="2.3" fill="#ff0000"/>
<circle cx="89.0" cy="219.4" r="2.3" fill="#ff0000"/>
<circle cx="91.7" cy="221.4" r="2.3" fill="#ff0000"/>
<circle cx="90.4" cy="223.4" r="2.3" fill="#ff0000"/>
<circle cx="87.7" cy="228.2" r="2.3" fill="#ff0000"/>
<circle cx="86.3" cy="230.9" r="2.3" fill="#ff0000"/>
<circle cx="94.4" cy="227.8" r="2.3" fill="#ff0000"/>
<circle cx="93.1" cy="217.4" r="2.3" fill="#ff0000"/>
<circle cx="99.4" cy="227.5" r="2.3" fill="#ff0000"/>
<circle cx="100.7" cy="229.5" r="2.3" fill="#ff0000"/>
<circle cx="106.8" cy="229.5" r="2.3" fill="#ff0000"/>
<circle cx="101.0" cy="234.6" r="2.3" fill="#ff0000"/>
<circle cx="122.7" cy="234.2" r="2.3" fill="#ff0000"/>
<circle cx="74.8" cy="248.8" r="2.3" fill="#ff0000"/>
<circle cx="93.1" cy="244.1" r="2.3" fill="#ff0000"/>
<circle cx="101.0" cy="236.3" r="2.3" fill="#ff0000"/>
<circle cx="60.5" cy="241.4" r="2.3" fill="#ff0000"/>
<circle cx="149.8" cy="197.0" r="2.3" fill="#ff0000"/>
<circle cx="89.8" cy="178.7" r="2.3" fill="#008000"/>
<circle cx="93.8" cy="177.4" r="2.3" fill="#008000"/>
<circle cx="97.9" cy="179.4" r="2.3" fill="#008000"/>
<circle cx="100.6" cy="182.1" r="2.3" fill="#008000"/>
<circle cx="95.2" cy="182.1" r="2.3" fill="#008000"/>
<circle cx="91.1" cy="182.8" r="2.3" fill="#008000"/>
<circle cx="81.7" cy="190.9" r="2.3" fill="#008000"/>
<circle cx="85.1" cy="192.9" r="2.3" fill="#008000"/>
<circle cx="84.4" cy="199.0" r="2.3" fill="#008000"/>
<circle cx="88.4" cy="197.6" r="2.3" fill="#008000"/>
<circle cx="92.5" cy="199.6" r="2.3" fill="#008000"/>
<circle cx="96.5" cy="198.3" r="2.3" fill="#008000"/>
<circle cx="85.7" cy="203.0" r="2.3" fill="#008000"/>
<circle cx="89.8" cy="203.7" r="2.3" fill="#008000"/>
<circle cx="93.8" cy="203.0" r="2.3" fill="#008000"/>
<circle cx="97.9" cy="204.4" r="2.3" fill="#008000"/>
<circle cx="87.1" cy="207.8" r="2.3" fill="#008000"/>
<circle cx="91.1" cy="208.4" r="2.3" fill="#008000"/>
<circle cx="95.2" cy="207.8" r="2.3" fill="#008000"/>
<circle cx="99.2" cy="208.4" r="2.3" fill="#008000"/>
<circle cx="88.4" cy="212.5" r="2.3" fill="#008000"/>
<circle cx="92.5" cy="213.8" r="2.3" fill="#008000"/>
<circle cx="96.5" cy="212.5" r="2.3" fill="#008000"/>
<circle cx="100.6" cy="213.2" r="2.3" fill="#008000"/>
<circle cx="102.6" cy="182.1" r="2.3" fill="#ff0000"/>
<circle cx="103.3" cy="192.2" r="2.3" fill="#ff0000"/>
<circle cx="99.9" cy="200.3" r="2.3" fill="#ff0000"/>
<circle cx="93.8" cy="205.7" r="2.3" fill="#ff0000"/>
<circle cx="88.4" cy="205.7" r="2.3" fill="#ff0000"/>
<circle cx="105.3" cy="206.4" r="2.3" fill="#ff0000"/>
<circle cx="89.8" cy="192.9" r="2.3" fill="#ff0000"/>
<circle cx="92.5" cy="185.5" r="2.3" fill="#ff0000"/>
<circle cx="87.1" cy="233.6" r="2.3" fill="#008000"/>
<circle cx="91.1" cy="236.3" r="2.3" fill="#008000"/>
<circle cx="95.2" cy="234.9" r="2.3" fill="#008000"/>
<circle cx="97.9" cy="239.0" r="2.3" fill="#008000"/>
<circle cx="89.8" cy="240.3" r="2.3" fill="#008000"/>
<circle cx="93.8" cy="241.0" r="2.3" fill="#008000"/>
<circle cx="85.7" cy="239.0" r="2.3" fill="#008000"/>
<circle cx="83.0" cy="236.3" r="2.3" fill="#008000"/>
<circle cx="88.4" cy="224.1" r="2.3" fill="#008000"/>
<circle cx="92.5" cy="221.4" r="2.3" fill="#008000"/>
<circle cx="96.5" cy="224.1" r="2.3" fill="#008000"/>
</g>
<rect x="36.60" y="86.60" width="155.60" height="179.90" fill="none" stroke="#2a2a2a" stroke-width="1.1"/>
<line x1="36.60" y1="206.53" x2="39.40" y2="206.53" stroke="#222" stroke-width="1.0" />
<line x1="192.20" y1="206.53" x2="189.40" y2="206.53" stroke="#222" stroke-width="1.0" />
<line x1="36.60" y1="146.57" x2="39.40" y2="146.57" stroke="#222" stroke-width="1.0" />
<line x1="192.20" y1="146.57" x2="189.40" y2="146.57" stroke="#222" stroke-width="1.0" />
<line x1="75.50" y1="86.60" x2="75.50" y2="89.40" stroke="#222" stroke-width="1.0" />
<line x1="75.50" y1="266.50" x2="75.50" y2="263.70" stroke="#222" stroke-width="1.0" />
<line x1="114.40" y1="86.60" x2="114.40" y2="89.40" stroke="#222" stroke-width="1.0" />
<line x1="114.40" y1="266.50" x2="114.40" y2="263.70" stroke="#222" stroke-width="1.0" />
<line x1="153.30" y1="86.60" x2="153.30" y2="89.40" stroke="#222" stroke-width="1.0" />
<line x1="153.30" y1="266.50" x2="153.30" y2="263.70" stroke="#222" stroke-width="1.0" />
<text x="33.30" y="270.60" font-size="11.5" text-anchor="end"  style="">0</text>
<text x="33.30" y="210.63" font-size="11.5" text-anchor="end"  style="">2</text>
<text x="33.30" y="150.67" font-size="11.5" text-anchor="end"  style="">4</text>
<text x="33.30" y="90.70" font-size="11.5" text-anchor="end"  style="">6</text>
<text x="36.60" y="278.60" font-size="11.5" text-anchor="middle" textLength="28.4" lengthAdjust="spacingAndGlyphs" style="">&#8722;0.05</text>
<text x="75.50" y="278.60" font-size="11.5" text-anchor="middle" textLength="20.4" lengthAdjust="spacingAndGlyphs" style="">0.00</text>
<text x="114.40" y="278.60" font-size="11.5" text-anchor="middle" textLength="20.4" lengthAdjust="spacingAndGlyphs" style="">0.05</text>
<text x="153.30" y="278.60" font-size="11.5" text-anchor="middle" textLength="20.4" lengthAdjust="spacingAndGlyphs" style="">0.10</text>
<text x="192.20" y="278.60" font-size="11.5" text-anchor="middle" textLength="20.4" lengthAdjust="spacingAndGlyphs" style="">0.15</text>
<text x="169.10" y="111.9" font-size="14" text-anchor="middle" textLength="16.6" lengthAdjust="spacingAndGlyphs">(<tspan style="stroke-width:0.45px">a</tspan>)</text>
<g transform="translate(19.00,210.9) rotate(-90)"><text x="0" y="0" font-size="11.5" textLength="7.8" lengthAdjust="spacingAndGlyphs">&#934;</text><text x="10.4" y="-5.3" font-size="8.2" font-style="italic" textLength="18.6" lengthAdjust="spacingAndGlyphs">ELM</text><text x="10.0" y="2.2" font-size="8.8" font-style="italic" textLength="16.0" lengthAdjust="spacingAndGlyphs">BE2</text><text x="33.8" y="0" font-size="11.5" textLength="23.4" lengthAdjust="spacingAndGlyphs">[&#215;10</text><text x="57.4" y="-4.8" font-size="8.2" textLength="7.0" lengthAdjust="spacingAndGlyphs">11</text><text x="64.2" y="0" font-size="11.5">]</text></g>
<g font-size="12"><text x="91.80" y="291.1" textLength="7.0" lengthAdjust="spacingAndGlyphs">&#8722;</text><text x="100.00" y="291.1" font-size="12.8">&#916;</text><text x="109.00" y="291.1" font-style="italic" font-size="12.5">n</text><text x="115.80" y="293.0" font-size="8.5" font-style="italic">e</text><text x="120.40" y="292.70000000000005" font-size="12.5" textLength="4.6" lengthAdjust="spacingAndGlyphs">/</text><text x="126.20" y="291.1" font-style="italic" font-size="12.5">n</text><text x="133.00" y="293.0" font-size="8.5" font-style="italic">e</text></g>
<line x1="109.80" y1="283.70" x2="114.90" y2="283.70" stroke="#000" stroke-width="0.7" />
<line x1="127.00" y1="283.70" x2="132.10" y2="283.70" stroke="#000" stroke-width="0.7" />
<text x="385.80" y="10.60" font-size="14.2" text-anchor="middle" textLength="23.4" lengthAdjust="spacingAndGlyphs" style="">LFS</text>
<line x1="347.80" y1="14.40" x2="347.80" y2="73.90" stroke="#000" stroke-width="1.0" stroke-dasharray="4.5 5.0" stroke-dashoffset="8.4"/>
<rect x="319.00" y="73.30" width="10.43" height="0.60" fill="#ff0000" stroke="#000" stroke-width="1.0"/>
<rect x="329.43" y="70.90" width="10.43" height="3.00" fill="#ff0000" stroke="#000" stroke-width="1.0"/>
<rect x="339.86" y="47.40" width="10.43" height="26.50" fill="#ff0000" stroke="#000" stroke-width="1.0"/>
<rect x="350.29" y="58.50" width="10.43" height="15.40" fill="#ff0000" stroke="#000" stroke-width="1.0"/>
<rect x="350.29" y="51.40" width="10.43" height="7.10" fill="#0000ff" stroke="#000" stroke-width="1.0"/>
<rect x="350.29" y="42.50" width="10.43" height="8.90" fill="#008000" stroke="#000" stroke-width="1.0"/>
<rect x="360.72" y="66.70" width="10.43" height="7.20" fill="#ff0000" stroke="#000" stroke-width="1.0"/>
<rect x="360.72" y="51.60" width="10.43" height="15.10" fill="#0000ff" stroke="#000" stroke-width="1.0"/>
<rect x="360.72" y="34.20" width="10.43" height="17.40" fill="#008000" stroke="#000" stroke-width="1.0"/>
<rect x="371.15" y="69.80" width="10.43" height="4.10" fill="#ff0000" stroke="#000" stroke-width="1.0"/>
<rect x="371.15" y="61.70" width="10.43" height="8.10" fill="#0000ff" stroke="#000" stroke-width="1.0"/>
<rect x="371.15" y="45.40" width="10.43" height="16.30" fill="#008000" stroke="#000" stroke-width="1.0"/>
<rect x="381.58" y="63.20" width="10.43" height="10.70" fill="#0000ff" stroke="#000" stroke-width="1.0"/>
<rect x="381.58" y="59.50" width="10.43" height="3.70" fill="#008000" stroke="#000" stroke-width="1.0"/>
<rect x="392.01" y="69.30" width="10.43" height="4.60" fill="#0000ff" stroke="#000" stroke-width="1.0"/>
<rect x="392.01" y="67.50" width="10.43" height="1.80" fill="#008000" stroke="#000" stroke-width="1.0"/>
<rect x="402.44" y="70.30" width="10.43" height="3.60" fill="#0000ff" stroke="#000" stroke-width="1.0"/>
<rect x="412.87" y="73.30" width="10.43" height="0.60" fill="#0000ff" stroke="#000" stroke-width="1.0"/>
<line x1="353.40" y1="14.40" x2="353.40" y2="73.90" stroke="#ff0000" stroke-width="1.3" stroke-dasharray="1.3 3.7" stroke-dashoffset="2.4"/>
<line x1="366.30" y1="14.40" x2="366.30" y2="73.90" stroke="#008000" stroke-width="1.3" stroke-dasharray="1.3 3.7" stroke-dashoffset="2.4"/>
<line x1="369.20" y1="14.40" x2="369.20" y2="73.90" stroke="#0000ff" stroke-width="1.3" stroke-dasharray="1.3 3.7" stroke-dashoffset="2.4"/>
<line x1="351.60" y1="17.40" x2="386.60" y2="17.40" stroke="#0000ff" stroke-width="1.0" />
<line x1="351.60" y1="15.60" x2="351.60" y2="19.20" stroke="#0000ff" stroke-width="1.0" />
<line x1="386.60" y1="15.60" x2="386.60" y2="19.20" stroke="#0000ff" stroke-width="1.0" />
<line x1="350.30" y1="20.00" x2="382.10" y2="20.00" stroke="#008000" stroke-width="1.0" />
<line x1="350.30" y1="18.20" x2="350.30" y2="21.80" stroke="#008000" stroke-width="1.0" />
<line x1="382.10" y1="18.20" x2="382.10" y2="21.80" stroke="#008000" stroke-width="1.0" />
<line x1="340.40" y1="23.30" x2="366.70" y2="23.30" stroke="#ff0000" stroke-width="1.0" />
<line x1="340.40" y1="21.50" x2="340.40" y2="25.10" stroke="#ff0000" stroke-width="1.0" />
<line x1="366.70" y1="21.50" x2="366.70" y2="25.10" stroke="#ff0000" stroke-width="1.0" />
<rect x="308.90" y="14.40" width="155.60" height="59.50" fill="none" stroke="#2a2a2a" stroke-width="1.1"/>
<line x1="308.90" y1="59.03" x2="311.70" y2="59.03" stroke="#222" stroke-width="1.0" />
<line x1="464.50" y1="59.03" x2="461.70" y2="59.03" stroke="#222" stroke-width="1.0" />
<line x1="308.90" y1="44.15" x2="311.70" y2="44.15" stroke="#222" stroke-width="1.0" />
<line x1="464.50" y1="44.15" x2="461.70" y2="44.15" stroke="#222" stroke-width="1.0" />
<line x1="308.90" y1="29.27" x2="311.70" y2="29.27" stroke="#222" stroke-width="1.0" />
<line x1="464.50" y1="29.27" x2="461.70" y2="29.27" stroke="#222" stroke-width="1.0" />
<line x1="347.80" y1="14.40" x2="347.80" y2="17.20" stroke="#222" stroke-width="1.0" />
<line x1="347.80" y1="73.90" x2="347.80" y2="71.10" stroke="#222" stroke-width="1.0" />
<line x1="386.70" y1="14.40" x2="386.70" y2="17.20" stroke="#222" stroke-width="1.0" />
<line x1="386.70" y1="73.90" x2="386.70" y2="71.10" stroke="#222" stroke-width="1.0" />
<line x1="425.60" y1="14.40" x2="425.60" y2="17.20" stroke="#222" stroke-width="1.0" />
<line x1="425.60" y1="73.90" x2="425.60" y2="71.10" stroke="#222" stroke-width="1.0" />
<text x="304.40" y="78.20" font-size="11.5" text-anchor="end"  style="">0</text>
<text x="304.40" y="63.33" font-size="11.5" text-anchor="end" textLength="11" lengthAdjust="spacingAndGlyphs" style="">50</text>
<text x="304.40" y="48.45" font-size="11.5" text-anchor="end" textLength="16.4" lengthAdjust="spacingAndGlyphs" style="">100</text>
<text x="304.40" y="33.57" font-size="11.5" text-anchor="end" textLength="16.4" lengthAdjust="spacingAndGlyphs" style="">150</text>
<text x="304.40" y="18.70" font-size="11.5" text-anchor="end" textLength="16.4" lengthAdjust="spacingAndGlyphs" style="">200</text>
<g transform="translate(281.20,59.5) rotate(-90)" font-style="italic"><text x="0.3" y="0" font-size="12">N</text><text x="10.6" y="1.4" font-size="8.6" textLength="18.6" lengthAdjust="spacingAndGlyphs">ELM</text></g>
<clipPath id="cR"><rect x="308.90" y="86.60" width="155.60" height="179.90"/></clipPath>
<g clip-path="url(#cR)">
<circle cx="383.8" cy="98.2" r="2.3" fill="#0000ff"/>
<circle cx="361.5" cy="134.0" r="2.3" fill="#0000ff"/>
<circle cx="361.5" cy="139.8" r="2.3" fill="#0000ff"/>
<circle cx="357.5" cy="144.2" r="2.3" fill="#0000ff"/>
<circle cx="354.6" cy="145.4" r="2.3" fill="#0000ff"/>
<circle cx="404.8" cy="127.7" r="2.3" fill="#0000ff"/>
<circle cx="367.1" cy="137.8" r="2.3" fill="#0000ff"/>
<circle cx="371.6" cy="140.1" r="2.3" fill="#0000ff"/>
<circle cx="374.4" cy="136.8" r="2.3" fill="#0000ff"/>
<circle cx="381.8" cy="135.3" r="2.3" fill="#0000ff"/>
<circle cx="383.8" cy="142.1" r="2.3" fill="#0000ff"/>
<circle cx="366.1" cy="145.6" r="2.3" fill="#0000ff"/>
<circle cx="374.2" cy="145.6" r="2.3" fill="#0000ff"/>
<circle cx="344.5" cy="153.3" r="2.3" fill="#0000ff"/>
<circle cx="357.2" cy="153.6" r="2.3" fill="#0000ff"/>
<circle cx="355.6" cy="156.6" r="2.3" fill="#0000ff"/>
<circle cx="359.7" cy="150.1" r="2.3" fill="#0000ff"/>
<circle cx="360.7" cy="155.1" r="2.3" fill="#0000ff"/>
<circle cx="351.6" cy="165.8" r="2.3" fill="#0000ff"/>
<circle cx="349.0" cy="170.8" r="2.3" fill="#0000ff"/>
<circle cx="355.6" cy="164.8" r="2.3" fill="#0000ff"/>
<circle cx="358.7" cy="163.2" r="2.3" fill="#0000ff"/>
<circle cx="360.7" cy="161.2" r="2.3" fill="#0000ff"/>
<circle cx="357.7" cy="169.8" r="2.3" fill="#0000ff"/>
<circle cx="361.2" cy="168.3" r="2.3" fill="#0000ff"/>
<circle cx="355.6" cy="174.4" r="2.3" fill="#0000ff"/>
<circle cx="366.1" cy="146.5" r="2.3" fill="#0000ff"/>
<circle cx="370.1" cy="149.0" r="2.3" fill="#0000ff"/>
<circle cx="373.1" cy="149.0" r="2.3" fill="#0000ff"/>
<circle cx="378.2" cy="151.1" r="2.3" fill="#0000ff"/>
<circle cx="384.3" cy="153.1" r="2.3" fill="#0000ff"/>
<circle cx="380.8" cy="155.1" r="2.3" fill="#0000ff"/>
<circle cx="375.7" cy="156.6" r="2.3" fill="#0000ff"/>
<circle cx="366.1" cy="154.9" r="2.3" fill="#0000ff"/>
<circle cx="366.1" cy="160.7" r="2.3" fill="#0000ff"/>
<circle cx="363.0" cy="164.2" r="2.3" fill="#0000ff"/>
<circle cx="364.0" cy="167.8" r="2.3" fill="#0000ff"/>
<circle cx="363.5" cy="171.3" r="2.3" fill="#0000ff"/>
<circle cx="374.0" cy="164.2" r="2.3" fill="#0000ff"/>
<circle cx="375.2" cy="171.3" r="2.3" fill="#0000ff"/>
<circle cx="378.7" cy="174.4" r="2.3" fill="#0000ff"/>
<circle cx="396.0" cy="160.2" r="2.3" fill="#0000ff"/>
<circle cx="382.8" cy="172.1" r="2.3" fill="#0000ff"/>
<circle cx="384.8" cy="174.4" r="2.3" fill="#0000ff"/>
<circle cx="393.9" cy="173.2" r="2.3" fill="#0000ff"/>
<circle cx="399.0" cy="173.9" r="2.3" fill="#0000ff"/>
<circle cx="407.6" cy="175.4" r="2.3" fill="#0000ff"/>
<circle cx="414.5" cy="173.4" r="2.3" fill="#0000ff"/>
<circle cx="367.1" cy="175.4" r="2.3" fill="#0000ff"/>
<circle cx="347.3" cy="178.7" r="2.3" fill="#0000ff"/>
<circle cx="348.3" cy="191.2" r="2.3" fill="#0000ff"/>
<circle cx="352.0" cy="187.1" r="2.3" fill="#0000ff"/>
<circle cx="357.1" cy="181.4" r="2.3" fill="#0000ff"/>
<circle cx="355.7" cy="194.2" r="2.3" fill="#0000ff"/>
<circle cx="359.1" cy="186.8" r="2.3" fill="#0000ff"/>
<circle cx="368.8" cy="179.4" r="2.3" fill="#0000ff"/>
<circle cx="367.4" cy="182.4" r="2.3" fill="#0000ff"/>
<circle cx="365.7" cy="188.5" r="2.3" fill="#0000ff"/>
<circle cx="366.1" cy="190.2" r="2.3" fill="#0000ff"/>
<circle cx="373.5" cy="184.8" r="2.3" fill="#0000ff"/>
<circle cx="380.2" cy="177.4" r="2.3" fill="#0000ff"/>
<circle cx="382.9" cy="178.4" r="2.3" fill="#0000ff"/>
<circle cx="378.9" cy="183.8" r="2.3" fill="#0000ff"/>
<circle cx="387.0" cy="182.1" r="2.3" fill="#0000ff"/>
<circle cx="387.3" cy="185.1" r="2.3" fill="#0000ff"/>
<circle cx="392.4" cy="192.2" r="2.3" fill="#0000ff"/>
<circle cx="395.4" cy="193.9" r="2.3" fill="#0000ff"/>
<circle cx="378.2" cy="194.2" r="2.3" fill="#0000ff"/>
<circle cx="384.3" cy="195.3" r="2.3" fill="#0000ff"/>
<circle cx="339.5" cy="213.2" r="2.3" fill="#0000ff"/>
<circle cx="349.0" cy="198.0" r="2.3" fill="#0000ff"/>
<circle cx="351.7" cy="198.7" r="2.3" fill="#0000ff"/>
<circle cx="357.8" cy="202.1" r="2.3" fill="#0000ff"/>
<circle cx="357.1" cy="208.8" r="2.3" fill="#0000ff"/>
<circle cx="353.0" cy="212.2" r="2.3" fill="#0000ff"/>
<circle cx="368.8" cy="202.1" r="2.3" fill="#0000ff"/>
<circle cx="364.7" cy="206.1" r="2.3" fill="#0000ff"/>
<circle cx="372.1" cy="197.4" r="2.3" fill="#0000ff"/>
<circle cx="370.8" cy="208.2" r="2.3" fill="#0000ff"/>
<circle cx="376.9" cy="206.8" r="2.3" fill="#0000ff"/>
<circle cx="375.5" cy="208.8" r="2.3" fill="#0000ff"/>
<circle cx="378.2" cy="197.4" r="2.3" fill="#0000ff"/>
<circle cx="378.9" cy="199.4" r="2.3" fill="#0000ff"/>
<circle cx="379.6" cy="211.2" r="2.3" fill="#0000ff"/>
<circle cx="384.3" cy="196.7" r="2.3" fill="#0000ff"/>
<circle cx="387.7" cy="199.4" r="2.3" fill="#0000ff"/>
<circle cx="388.0" cy="201.4" r="2.3" fill="#0000ff"/>
<circle cx="390.4" cy="203.1" r="2.3" fill="#0000ff"/>
<circle cx="392.7" cy="207.1" r="2.3" fill="#0000ff"/>
<circle cx="395.1" cy="197.4" r="2.3" fill="#0000ff"/>
<circle cx="396.5" cy="199.4" r="2.3" fill="#0000ff"/>
<circle cx="370.1" cy="215.6" r="2.3" fill="#0000ff"/>
<circle cx="340.2" cy="231.9" r="2.3" fill="#0000ff"/>
<circle cx="346.3" cy="233.6" r="2.3" fill="#0000ff"/>
<circle cx="354.4" cy="219.4" r="2.3" fill="#0000ff"/>
<circle cx="355.1" cy="220.7" r="2.3" fill="#0000ff"/>
<circle cx="370.8" cy="216.3" r="2.3" fill="#0000ff"/>
<circle cx="377.2" cy="220.1" r="2.3" fill="#0000ff"/>
<circle cx="383.6" cy="228.8" r="2.3" fill="#0000ff"/>
<circle cx="389.7" cy="225.5" r="2.3" fill="#0000ff"/>
<circle cx="391.7" cy="225.5" r="2.3" fill="#0000ff"/>
<circle cx="393.1" cy="229.5" r="2.3" fill="#0000ff"/>
<circle cx="377.5" cy="233.6" r="2.3" fill="#0000ff"/>
<circle cx="339.5" cy="236.7" r="2.3" fill="#0000ff"/>
<circle cx="348.6" cy="242.8" r="2.3" fill="#0000ff"/>
<circle cx="353.4" cy="239.0" r="2.3" fill="#0000ff"/>
<circle cx="361.5" cy="246.1" r="2.3" fill="#0000ff"/>
<circle cx="336.5" cy="255.6" r="2.3" fill="#0000ff"/>
<circle cx="386.3" cy="236.7" r="2.3" fill="#0000ff"/>
<circle cx="387.7" cy="241.4" r="2.3" fill="#0000ff"/>
<circle cx="372.1" cy="249.5" r="2.3" fill="#0000ff"/>
<circle cx="378.2" cy="251.5" r="2.3" fill="#0000ff"/>
<circle cx="389.0" cy="250.2" r="2.3" fill="#0000ff"/>
<circle cx="391.1" cy="252.2" r="2.3" fill="#0000ff"/>
<circle cx="362.3" cy="245.5" r="2.3" fill="#0000ff"/>
<circle cx="397.1" cy="238.0" r="2.3" fill="#0000ff"/>
<circle cx="336.1" cy="256.4" r="2.3" fill="#0000ff"/>
<circle cx="338.8" cy="258.4" r="2.3" fill="#0000ff"/>
<circle cx="403.1" cy="179.5" r="2.3" fill="#0000ff"/>
<circle cx="401.5" cy="185.1" r="2.3" fill="#0000ff"/>
<circle cx="406.6" cy="189.0" r="2.3" fill="#0000ff"/>
<circle cx="408.1" cy="189.0" r="2.3" fill="#0000ff"/>
<circle cx="406.3" cy="203.4" r="2.3" fill="#0000ff"/>
<circle cx="403.9" cy="214.9" r="2.3" fill="#0000ff"/>
<circle cx="405.9" cy="219.0" r="2.3" fill="#0000ff"/>
<circle cx="414.2" cy="220.0" r="2.3" fill="#0000ff"/>
<circle cx="410.2" cy="228.3" r="2.3" fill="#0000ff"/>
<circle cx="411.2" cy="231.5" r="2.3" fill="#0000ff"/>
<circle cx="403.1" cy="238.0" r="2.3" fill="#0000ff"/>
<circle cx="399.5" cy="247.1" r="2.3" fill="#0000ff"/>
<circle cx="412.2" cy="248.7" r="2.3" fill="#0000ff"/>
<circle cx="418.8" cy="248.4" r="2.3" fill="#0000ff"/>
<circle cx="422.5" cy="243.6" r="2.3" fill="#0000ff"/>
<circle cx="409.4" cy="253.0" r="2.3" fill="#0000ff"/>
<circle cx="344.0" cy="125.3" r="2.3" fill="#008000"/>
<circle cx="351.8" cy="124.3" r="2.3" fill="#008000"/>
<circle cx="353.4" cy="139.1" r="2.3" fill="#008000"/>
<circle cx="361.5" cy="130.7" r="2.3" fill="#008000"/>
<circle cx="351.1" cy="145.6" r="2.3" fill="#008000"/>
<circle cx="365.5" cy="143.4" r="2.3" fill="#008000"/>
<circle cx="340.9" cy="153.6" r="2.3" fill="#008000"/>
<circle cx="346.5" cy="152.3" r="2.3" fill="#008000"/>
<circle cx="348.0" cy="162.2" r="2.3" fill="#008000"/>
<circle cx="347.5" cy="167.3" r="2.3" fill="#008000"/>
<circle cx="345.5" cy="170.8" r="2.3" fill="#008000"/>
<circle cx="351.6" cy="169.5" r="2.3" fill="#008000"/>
<circle cx="359.2" cy="166.8" r="2.3" fill="#008000"/>
<circle cx="359.7" cy="172.4" r="2.3" fill="#008000"/>
<circle cx="352.6" cy="175.4" r="2.3" fill="#008000"/>
<circle cx="372.6" cy="152.9" r="2.3" fill="#008000"/>
<circle cx="377.0" cy="156.1" r="2.3" fill="#008000"/>
<circle cx="369.6" cy="163.2" r="2.3" fill="#008000"/>
<circle cx="370.6" cy="168.3" r="2.3" fill="#008000"/>
<circle cx="372.6" cy="171.8" r="2.3" fill="#008000"/>
<circle cx="371.1" cy="174.4" r="2.3" fill="#008000"/>
<circle cx="383.3" cy="162.2" r="2.3" fill="#008000"/>
<circle cx="383.3" cy="167.3" r="2.3" fill="#008000"/>
<circle cx="387.3" cy="168.8" r="2.3" fill="#008000"/>
<circle cx="391.4" cy="166.8" r="2.3" fill="#008000"/>
<circle cx="394.9" cy="162.7" r="2.3" fill="#008000"/>
<circle cx="401.7" cy="166.8" r="2.3" fill="#008000"/>
<circle cx="419.9" cy="153.1" r="2.3" fill="#008000"/>
<circle cx="345.3" cy="189.9" r="2.3" fill="#008000"/>
<circle cx="343.9" cy="192.6" r="2.3" fill="#008000"/>
<circle cx="349.0" cy="192.9" r="2.3" fill="#008000"/>
<circle cx="358.4" cy="183.1" r="2.3" fill="#008000"/>
<circle cx="357.1" cy="188.2" r="2.3" fill="#008000"/>
<circle cx="359.8" cy="190.2" r="2.3" fill="#008000"/>
<circle cx="361.1" cy="188.2" r="2.3" fill="#008000"/>
<circle cx="366.7" cy="177.0" r="2.3" fill="#008000"/>
<circle cx="364.4" cy="184.1" r="2.3" fill="#008000"/>
<circle cx="369.4" cy="184.8" r="2.3" fill="#008000"/>
<circle cx="372.1" cy="186.1" r="2.3" fill="#008000"/>
<circle cx="370.1" cy="188.8" r="2.3" fill="#008000"/>
<circle cx="370.8" cy="191.5" r="2.3" fill="#008000"/>
<circle cx="366.1" cy="192.2" r="2.3" fill="#008000"/>
<circle cx="363.4" cy="192.9" r="2.3" fill="#008000"/>
<circle cx="372.8" cy="194.9" r="2.3" fill="#008000"/>
<circle cx="381.6" cy="182.4" r="2.3" fill="#008000"/>
<circle cx="388.0" cy="178.4" r="2.3" fill="#008000"/>
<circle cx="390.0" cy="186.5" r="2.3" fill="#008000"/>
<circle cx="393.8" cy="178.0" r="2.3" fill="#008000"/>
<circle cx="394.4" cy="182.4" r="2.3" fill="#008000"/>
<circle cx="385.0" cy="191.2" r="2.3" fill="#008000"/>
<circle cx="393.8" cy="189.5" r="2.3" fill="#008000"/>
<circle cx="371.5" cy="176.0" r="2.3" fill="#008000"/>
<circle cx="329.7" cy="214.2" r="2.3" fill="#008000"/>
<circle cx="342.9" cy="198.7" r="2.3" fill="#008000"/>
<circle cx="343.6" cy="204.4" r="2.3" fill="#008000"/>
<circle cx="353.0" cy="204.8" r="2.3" fill="#008000"/>
<circle cx="359.8" cy="206.1" r="2.3" fill="#008000"/>
<circle cx="355.7" cy="209.5" r="2.3" fill="#008000"/>
<circle cx="359.8" cy="196.7" r="2.3" fill="#008000"/>
<circle cx="362.7" cy="198.7" r="2.3" fill="#008000"/>
<circle cx="365.4" cy="200.7" r="2.3" fill="#008000"/>
<circle cx="364.0" cy="206.1" r="2.3" fill="#008000"/>
<circle cx="363.4" cy="211.5" r="2.3" fill="#008000"/>
<circle cx="366.1" cy="214.2" r="2.3" fill="#008000"/>
<circle cx="370.1" cy="198.7" r="2.3" fill="#008000"/>
<circle cx="374.2" cy="198.7" r="2.3" fill="#008000"/>
<circle cx="372.1" cy="203.4" r="2.3" fill="#008000"/>
<circle cx="374.8" cy="204.8" r="2.3" fill="#008000"/>
<circle cx="368.8" cy="209.5" r="2.3" fill="#008000"/>
<circle cx="371.5" cy="210.9" r="2.3" fill="#008000"/>
<circle cx="374.8" cy="212.2" r="2.3" fill="#008000"/>
<circle cx="372.8" cy="214.2" r="2.3" fill="#008000"/>
<circle cx="380.9" cy="207.5" r="2.3" fill="#008000"/>
<circle cx="384.3" cy="208.5" r="2.3" fill="#008000"/>
<circle cx="388.4" cy="205.1" r="2.3" fill="#008000"/>
<circle cx="379.6" cy="214.2" r="2.3" fill="#008000"/>
<circle cx="397.5" cy="213.2" r="2.3" fill="#008000"/>
<circle cx="331.4" cy="227.8" r="2.3" fill="#008000"/>
<circle cx="339.5" cy="227.5" r="2.3" fill="#008000"/>
<circle cx="342.2" cy="223.4" r="2.3" fill="#008000"/>
<circle cx="345.6" cy="218.0" r="2.3" fill="#008000"/>
<circle cx="350.3" cy="220.7" r="2.3" fill="#008000"/>
<circle cx="351.7" cy="226.1" r="2.3" fill="#008000"/>
<circle cx="353.0" cy="228.8" r="2.3" fill="#008000"/>
<circle cx="357.1" cy="229.5" r="2.3" fill="#008000"/>
<circle cx="359.1" cy="226.1" r="2.3" fill="#008000"/>
<circle cx="346.3" cy="229.9" r="2.3" fill="#008000"/>
<circle cx="358.4" cy="234.2" r="2.3" fill="#008000"/>
<circle cx="361.1" cy="217.4" r="2.3" fill="#008000"/>
<circle cx="367.4" cy="218.7" r="2.3" fill="#008000"/>
<circle cx="366.7" cy="221.4" r="2.3" fill="#008000"/>
<circle cx="363.4" cy="217.4" r="2.3" fill="#008000"/>
<circle cx="368.8" cy="225.5" r="2.3" fill="#008000"/>
<circle cx="366.1" cy="228.8" r="2.3" fill="#008000"/>
<circle cx="369.4" cy="229.5" r="2.3" fill="#008000"/>
<circle cx="372.1" cy="230.9" r="2.3" fill="#008000"/>
<circle cx="374.2" cy="232.9" r="2.3" fill="#008000"/>
<circle cx="372.8" cy="228.2" r="2.3" fill="#008000"/>
<circle cx="374.8" cy="218.7" r="2.3" fill="#008000"/>
<circle cx="374.8" cy="225.5" r="2.3" fill="#008000"/>
<circle cx="378.9" cy="226.1" r="2.3" fill="#008000"/>
<circle cx="379.6" cy="229.5" r="2.3" fill="#008000"/>
<circle cx="382.3" cy="218.7" r="2.3" fill="#008000"/>
<circle cx="384.3" cy="220.7" r="2.3" fill="#008000"/>
<circle cx="385.0" cy="223.4" r="2.3" fill="#008000"/>
<circle cx="382.3" cy="223.4" r="2.3" fill="#008000"/>
<circle cx="390.4" cy="217.4" r="2.3" fill="#008000"/>
<circle cx="391.1" cy="228.2" r="2.3" fill="#008000"/>
<circle cx="382.3" cy="232.9" r="2.3" fill="#008000"/>
<circle cx="385.6" cy="234.2" r="2.3" fill="#008000"/>
<circle cx="390.4" cy="234.2" r="2.3" fill="#008000"/>
<circle cx="396.5" cy="234.2" r="2.3" fill="#008000"/>
<circle cx="375.5" cy="234.9" r="2.3" fill="#008000"/>
<circle cx="379.6" cy="234.2" r="2.3" fill="#008000"/>
<circle cx="328.0" cy="239.0" r="2.3" fill="#008000"/>
<circle cx="333.4" cy="238.0" r="2.3" fill="#008000"/>
<circle cx="335.5" cy="236.7" r="2.3" fill="#008000"/>
<circle cx="328.0" cy="253.6" r="2.3" fill="#008000"/>
<circle cx="342.9" cy="238.7" r="2.3" fill="#008000"/>
<circle cx="348.3" cy="243.4" r="2.3" fill="#008000"/>
<circle cx="355.1" cy="238.7" r="2.3" fill="#008000"/>
<circle cx="358.4" cy="243.4" r="2.3" fill="#008000"/>
<circle cx="359.8" cy="244.8" r="2.3" fill="#008000"/>
<circle cx="355.7" cy="250.2" r="2.3" fill="#008000"/>
<circle cx="357.8" cy="251.5" r="2.3" fill="#008000"/>
<circle cx="352.4" cy="248.2" r="2.3" fill="#008000"/>
<circle cx="338.2" cy="244.1" r="2.3" fill="#008000"/>
<circle cx="370.1" cy="237.4" r="2.3" fill="#008000"/>
<circle cx="369.4" cy="241.4" r="2.3" fill="#008000"/>
<circle cx="366.1" cy="243.4" r="2.3" fill="#008000"/>
<circle cx="369.4" cy="246.1" r="2.3" fill="#008000"/>
<circle cx="370.1" cy="251.5" r="2.3" fill="#008000"/>
<circle cx="372.8" cy="249.5" r="2.3" fill="#008000"/>
<circle cx="375.5" cy="240.1" r="2.3" fill="#008000"/>
<circle cx="382.9" cy="238.0" r="2.3" fill="#008000"/>
<circle cx="384.3" cy="241.4" r="2.3" fill="#008000"/>
<circle cx="385.0" cy="246.1" r="2.3" fill="#008000"/>
<circle cx="381.6" cy="248.2" r="2.3" fill="#008000"/>
<circle cx="382.3" cy="251.5" r="2.3" fill="#008000"/>
<circle cx="380.2" cy="249.5" r="2.3" fill="#008000"/>
<circle cx="386.3" cy="252.9" r="2.3" fill="#008000"/>
<circle cx="382.9" cy="254.9" r="2.3" fill="#008000"/>
<circle cx="363.4" cy="255.6" r="2.3" fill="#008000"/>
<circle cx="362.3" cy="243.4" r="2.3" fill="#008000"/>
<circle cx="389.0" cy="239.4" r="2.3" fill="#008000"/>
<circle cx="392.4" cy="240.1" r="2.3" fill="#008000"/>
<circle cx="395.1" cy="239.4" r="2.3" fill="#008000"/>
<circle cx="397.1" cy="246.8" r="2.3" fill="#008000"/>
<circle cx="338.2" cy="262.2" r="2.3" fill="#008000"/>
<circle cx="341.5" cy="264.2" r="2.3" fill="#008000"/>
<circle cx="343.6" cy="265.5" r="2.3" fill="#008000"/>
<circle cx="346.3" cy="262.8" r="2.3" fill="#008000"/>
<circle cx="349.6" cy="259.5" r="2.3" fill="#008000"/>
<circle cx="351.7" cy="261.5" r="2.3" fill="#008000"/>
<circle cx="354.4" cy="259.5" r="2.3" fill="#008000"/>
<circle cx="357.1" cy="260.8" r="2.3" fill="#008000"/>
<circle cx="359.8" cy="262.2" r="2.3" fill="#008000"/>
<circle cx="361.1" cy="259.5" r="2.3" fill="#008000"/>
<circle cx="349.0" cy="263.5" r="2.3" fill="#008000"/>
<circle cx="353.0" cy="263.5" r="2.3" fill="#008000"/>
<circle cx="356.4" cy="264.2" r="2.3" fill="#008000"/>
<circle cx="326.3" cy="263.5" r="2.3" fill="#008000"/>
<circle cx="363.4" cy="258.8" r="2.3" fill="#008000"/>
<circle cx="363.4" cy="262.8" r="2.3" fill="#008000"/>
<circle cx="366.1" cy="260.8" r="2.3" fill="#008000"/>
<circle cx="365.4" cy="264.9" r="2.3" fill="#008000"/>
<circle cx="368.8" cy="257.4" r="2.3" fill="#008000"/>
<circle cx="369.4" cy="262.8" r="2.3" fill="#008000"/>
<circle cx="374.8" cy="261.5" r="2.3" fill="#008000"/>
<circle cx="375.5" cy="264.9" r="2.3" fill="#008000"/>
<circle cx="378.9" cy="262.2" r="2.3" fill="#008000"/>
<circle cx="381.6" cy="260.1" r="2.3" fill="#008000"/>
<circle cx="382.3" cy="257.4" r="2.3" fill="#008000"/>
<circle cx="384.3" cy="262.8" r="2.3" fill="#008000"/>
<circle cx="387.0" cy="258.1" r="2.3" fill="#008000"/>
<circle cx="389.0" cy="262.2" r="2.3" fill="#008000"/>
<circle cx="389.0" cy="264.2" r="2.3" fill="#008000"/>
<circle cx="392.4" cy="261.5" r="2.3" fill="#008000"/>
<circle cx="395.1" cy="260.1" r="2.3" fill="#008000"/>
<circle cx="395.8" cy="262.8" r="2.3" fill="#008000"/>
<circle cx="397.1" cy="257.4" r="2.3" fill="#008000"/>
<circle cx="402.6" cy="182.9" r="2.3" fill="#008000"/>
<circle cx="412.2" cy="204.9" r="2.3" fill="#008000"/>
<circle cx="399.5" cy="210.1" r="2.3" fill="#008000"/>
<circle cx="406.3" cy="222.4" r="2.3" fill="#008000"/>
<circle cx="406.9" cy="227.1" r="2.3" fill="#008000"/>
<circle cx="420.5" cy="225.8" r="2.3" fill="#008000"/>
<circle cx="407.1" cy="235.4" r="2.3" fill="#008000"/>
<circle cx="410.7" cy="235.4" r="2.3" fill="#008000"/>
<circle cx="400.0" cy="239.5" r="2.3" fill="#008000"/>
<circle cx="401.0" cy="243.1" r="2.3" fill="#008000"/>
<circle cx="409.7" cy="239.5" r="2.3" fill="#008000"/>
<circle cx="412.7" cy="246.6" r="2.3" fill="#008000"/>
<circle cx="402.3" cy="254.4" r="2.3" fill="#008000"/>
<circle cx="398.5" cy="257.8" r="2.3" fill="#008000"/>
<circle cx="400.0" cy="259.8" r="2.3" fill="#008000"/>
<circle cx="352.4" cy="102.2" r="2.3" fill="#ff0000"/>
<circle cx="353.4" cy="141.1" r="2.3" fill="#ff0000"/>
<circle cx="376.2" cy="145.6" r="2.3" fill="#ff0000"/>
<circle cx="359.2" cy="147.2" r="2.3" fill="#ff0000"/>
<circle cx="350.6" cy="150.6" r="2.3" fill="#ff0000"/>
<circle cx="345.5" cy="156.9" r="2.3" fill="#ff0000"/>
<circle cx="342.0" cy="162.2" r="2.3" fill="#ff0000"/>
<circle cx="342.5" cy="163.7" r="2.3" fill="#ff0000"/>
<circle cx="356.1" cy="160.7" r="2.3" fill="#ff0000"/>
<circle cx="348.0" cy="175.4" r="2.3" fill="#ff0000"/>
<circle cx="369.6" cy="164.8" r="2.3" fill="#ff0000"/>
<circle cx="349.6" cy="180.4" r="2.3" fill="#ff0000"/>
<circle cx="340.5" cy="182.1" r="2.3" fill="#ff0000"/>
<circle cx="344.2" cy="180.4" r="2.3" fill="#ff0000"/>
<circle cx="342.2" cy="183.4" r="2.3" fill="#ff0000"/>
<circle cx="341.2" cy="186.1" r="2.3" fill="#ff0000"/>
<circle cx="343.6" cy="185.8" r="2.3" fill="#ff0000"/>
<circle cx="346.3" cy="185.5" r="2.3" fill="#ff0000"/>
<circle cx="347.6" cy="187.8" r="2.3" fill="#ff0000"/>
<circle cx="340.2" cy="190.5" r="2.3" fill="#ff0000"/>
<circle cx="343.9" cy="194.6" r="2.3" fill="#ff0000"/>
<circle cx="346.9" cy="194.9" r="2.3" fill="#ff0000"/>
<circle cx="360.5" cy="180.7" r="2.3" fill="#ff0000"/>
<circle cx="360.5" cy="184.8" r="2.3" fill="#ff0000"/>
<circle cx="355.7" cy="185.5" r="2.3" fill="#ff0000"/>
<circle cx="355.1" cy="191.5" r="2.3" fill="#ff0000"/>
<circle cx="353.0" cy="193.6" r="2.3" fill="#ff0000"/>
<circle cx="357.8" cy="192.9" r="2.3" fill="#ff0000"/>
<circle cx="360.5" cy="193.6" r="2.3" fill="#ff0000"/>
<circle cx="375.5" cy="184.8" r="2.3" fill="#ff0000"/>
<circle cx="375.5" cy="188.5" r="2.3" fill="#ff0000"/>
<circle cx="370.1" cy="194.2" r="2.3" fill="#ff0000"/>
<circle cx="329.7" cy="208.8" r="2.3" fill="#ff0000"/>
<circle cx="336.1" cy="210.5" r="2.3" fill="#ff0000"/>
<circle cx="339.2" cy="209.9" r="2.3" fill="#ff0000"/>
<circle cx="340.9" cy="201.1" r="2.3" fill="#ff0000"/>
<circle cx="344.2" cy="197.4" r="2.3" fill="#ff0000"/>
<circle cx="345.6" cy="200.1" r="2.3" fill="#ff0000"/>
<circle cx="346.3" cy="203.4" r="2.3" fill="#ff0000"/>
<circle cx="344.9" cy="208.8" r="2.3" fill="#ff0000"/>
<circle cx="347.6" cy="208.2" r="2.3" fill="#ff0000"/>
<circle cx="349.0" cy="202.1" r="2.3" fill="#ff0000"/>
<circle cx="353.7" cy="197.4" r="2.3" fill="#ff0000"/>
<circle cx="355.7" cy="203.4" r="2.3" fill="#ff0000"/>
<circle cx="359.1" cy="198.7" r="2.3" fill="#ff0000"/>
<circle cx="361.1" cy="202.8" r="2.3" fill="#ff0000"/>
<circle cx="351.3" cy="211.5" r="2.3" fill="#ff0000"/>
<circle cx="342.2" cy="214.6" r="2.3" fill="#ff0000"/>
<circle cx="346.3" cy="214.2" r="2.3" fill="#ff0000"/>
<circle cx="356.4" cy="213.6" r="2.3" fill="#ff0000"/>
<circle cx="360.5" cy="212.9" r="2.3" fill="#ff0000"/>
<circle cx="354.4" cy="215.6" r="2.3" fill="#ff0000"/>
<circle cx="361.1" cy="208.8" r="2.3" fill="#ff0000"/>
<circle cx="362.7" cy="203.4" r="2.3" fill="#ff0000"/>
<circle cx="362.3" cy="208.8" r="2.3" fill="#ff0000"/>
<circle cx="368.8" cy="205.8" r="2.3" fill="#ff0000"/>
<circle cx="370.1" cy="196.3" r="2.3" fill="#ff0000"/>
<circle cx="336.1" cy="233.6" r="2.3" fill="#ff0000"/>
<circle cx="339.5" cy="217.4" r="2.3" fill="#ff0000"/>
<circle cx="342.9" cy="216.7" r="2.3" fill="#ff0000"/>
<circle cx="344.9" cy="220.7" r="2.3" fill="#ff0000"/>
<circle cx="346.3" cy="222.8" r="2.3" fill="#ff0000"/>
<circle cx="344.2" cy="226.1" r="2.3" fill="#ff0000"/>
<circle cx="343.6" cy="229.5" r="2.3" fill="#ff0000"/>
<circle cx="344.9" cy="232.9" r="2.3" fill="#ff0000"/>
<circle cx="348.3" cy="234.9" r="2.3" fill="#ff0000"/>
<circle cx="347.6" cy="217.4" r="2.3" fill="#ff0000"/>
<circle cx="351.0" cy="217.4" r="2.3" fill="#ff0000"/>
<circle cx="342.2" cy="234.9" r="2.3" fill="#ff0000"/>
<circle cx="349.6" cy="231.5" r="2.3" fill="#ff0000"/>
<circle cx="356.4" cy="225.8" r="2.3" fill="#ff0000"/>
<circle cx="355.1" cy="216.7" r="2.3" fill="#ff0000"/>
<circle cx="358.4" cy="218.7" r="2.3" fill="#ff0000"/>
<circle cx="359.8" cy="222.8" r="2.3" fill="#ff0000"/>
<circle cx="360.5" cy="230.2" r="2.3" fill="#ff0000"/>
<circle cx="354.4" cy="232.2" r="2.3" fill="#ff0000"/>
<circle cx="357.8" cy="234.2" r="2.3" fill="#ff0000"/>
<circle cx="353.0" cy="234.9" r="2.3" fill="#ff0000"/>
<circle cx="363.4" cy="220.1" r="2.3" fill="#ff0000"/>
<circle cx="364.7" cy="224.1" r="2.3" fill="#ff0000"/>
<circle cx="362.7" cy="227.5" r="2.3" fill="#ff0000"/>
<circle cx="364.7" cy="218.7" r="2.3" fill="#ff0000"/>
<circle cx="362.3" cy="232.2" r="2.3" fill="#ff0000"/>
<circle cx="372.1" cy="224.4" r="2.3" fill="#ff0000"/>
<circle cx="377.9" cy="222.8" r="2.3" fill="#ff0000"/>
<circle cx="387.7" cy="226.8" r="2.3" fill="#ff0000"/>
<circle cx="367.4" cy="233.2" r="2.3" fill="#ff0000"/>
<circle cx="369.4" cy="234.2" r="2.3" fill="#ff0000"/>
<circle cx="397.5" cy="228.2" r="2.3" fill="#ff0000"/>
<circle cx="333.4" cy="243.1" r="2.3" fill="#ff0000"/>
<circle cx="332.8" cy="251.5" r="2.3" fill="#ff0000"/>
<circle cx="340.9" cy="241.4" r="2.3" fill="#ff0000"/>
<circle cx="343.6" cy="240.7" r="2.3" fill="#ff0000"/>
<circle cx="346.3" cy="239.4" r="2.3" fill="#ff0000"/>
<circle cx="349.6" cy="238.0" r="2.3" fill="#ff0000"/>
<circle cx="351.7" cy="240.1" r="2.3" fill="#ff0000"/>
<circle cx="341.5" cy="244.8" r="2.3" fill="#ff0000"/>
<circle cx="344.9" cy="244.1" r="2.3" fill="#ff0000"/>
<circle cx="346.9" cy="246.1" r="2.3" fill="#ff0000"/>
<circle cx="350.3" cy="244.1" r="2.3" fill="#ff0000"/>
<circle cx="353.0" cy="242.8" r="2.3" fill="#ff0000"/>
<circle cx="340.9" cy="248.2" r="2.3" fill="#ff0000"/>
<circle cx="344.2" cy="248.8" r="2.3" fill="#ff0000"/>
<circle cx="347.6" cy="249.5" r="2.3" fill="#ff0000"/>
<circle cx="351.0" cy="248.2" r="2.3" fill="#ff0000"/>
<circle cx="353.7" cy="246.1" r="2.3" fill="#ff0000"/>
<circle cx="339.5" cy="252.2" r="2.3" fill="#ff0000"/>
<circle cx="342.9" cy="252.9" r="2.3" fill="#ff0000"/>
<circle cx="346.3" cy="252.9" r="2.3" fill="#ff0000"/>
<circle cx="349.6" cy="252.9" r="2.3" fill="#ff0000"/>
<circle cx="353.0" cy="252.2" r="2.3" fill="#ff0000"/>
<circle cx="338.2" cy="254.9" r="2.3" fill="#ff0000"/>
<circle cx="341.5" cy="255.6" r="2.3" fill="#ff0000"/>
<circle cx="344.9" cy="255.6" r="2.3" fill="#ff0000"/>
<circle cx="349.0" cy="255.6" r="2.3" fill="#ff0000"/>
<circle cx="352.4" cy="254.9" r="2.3" fill="#ff0000"/>
<circle cx="355.7" cy="254.2" r="2.3" fill="#ff0000"/>
<circle cx="357.8" cy="238.0" r="2.3" fill="#ff0000"/>
<circle cx="359.8" cy="237.4" r="2.3" fill="#ff0000"/>
<circle cx="359.8" cy="240.7" r="2.3" fill="#ff0000"/>
<circle cx="357.8" cy="247.5" r="2.3" fill="#ff0000"/>
<circle cx="359.8" cy="249.5" r="2.3" fill="#ff0000"/>
<circle cx="359.8" cy="253.6" r="2.3" fill="#ff0000"/>
<circle cx="336.8" cy="252.9" r="2.3" fill="#ff0000"/>
<circle cx="362.7" cy="240.1" r="2.3" fill="#ff0000"/>
<circle cx="367.4" cy="237.4" r="2.3" fill="#ff0000"/>
<circle cx="372.8" cy="239.0" r="2.3" fill="#ff0000"/>
<circle cx="379.6" cy="238.4" r="2.3" fill="#ff0000"/>
<circle cx="380.9" cy="242.8" r="2.3" fill="#ff0000"/>
<circle cx="372.1" cy="243.4" r="2.3" fill="#ff0000"/>
<circle cx="375.5" cy="244.8" r="2.3" fill="#ff0000"/>
<circle cx="376.2" cy="247.5" r="2.3" fill="#ff0000"/>
<circle cx="364.7" cy="247.5" r="2.3" fill="#ff0000"/>
<circle cx="364.0" cy="250.2" r="2.3" fill="#ff0000"/>
<circle cx="367.4" cy="249.5" r="2.3" fill="#ff0000"/>
<circle cx="366.1" cy="252.9" r="2.3" fill="#ff0000"/>
<circle cx="378.2" cy="254.2" r="2.3" fill="#ff0000"/>
<circle cx="374.2" cy="255.6" r="2.3" fill="#ff0000"/>
<circle cx="395.1" cy="254.2" r="2.3" fill="#ff0000"/>
<circle cx="341.5" cy="258.1" r="2.3" fill="#ff0000"/>
<circle cx="344.9" cy="258.8" r="2.3" fill="#ff0000"/>
<circle cx="342.9" cy="260.8" r="2.3" fill="#ff0000"/>
<circle cx="351.7" cy="256.8" r="2.3" fill="#ff0000"/>
<circle cx="355.7" cy="256.1" r="2.3" fill="#ff0000"/>
<circle cx="359.8" cy="256.8" r="2.3" fill="#ff0000"/>
<circle cx="371.1" cy="260.1" r="2.3" fill="#ff0000"/>
<circle cx="373.1" cy="256.4" r="2.3" fill="#ff0000"/>
<circle cx="377.9" cy="257.4" r="2.3" fill="#ff0000"/>
<circle cx="422.5" cy="218.4" r="2.3" fill="#ff0000"/>
<circle cx="402.6" cy="230.1" r="2.3" fill="#ff0000"/>
<circle cx="364.3" cy="225.5" r="2.3" fill="#008000"/>
<circle cx="364.3" cy="229.2" r="2.3" fill="#008000"/>
<circle cx="364.3" cy="233.0" r="2.3" fill="#008000"/>
<circle cx="364.3" cy="236.8" r="2.3" fill="#008000"/>
<circle cx="364.3" cy="240.6" r="2.3" fill="#008000"/>
<circle cx="364.3" cy="244.4" r="2.3" fill="#008000"/>
<circle cx="364.3" cy="248.2" r="2.3" fill="#008000"/>
<circle cx="364.3" cy="251.9" r="2.3" fill="#008000"/>
<circle cx="368.1" cy="225.5" r="2.3" fill="#008000"/>
<circle cx="368.1" cy="229.2" r="2.3" fill="#008000"/>
<circle cx="368.1" cy="233.0" r="2.3" fill="#008000"/>
<circle cx="368.1" cy="236.8" r="2.3" fill="#008000"/>
<circle cx="368.1" cy="240.6" r="2.3" fill="#008000"/>
<circle cx="368.1" cy="244.4" r="2.3" fill="#008000"/>
<circle cx="368.1" cy="248.2" r="2.3" fill="#008000"/>
<circle cx="368.1" cy="251.9" r="2.3" fill="#008000"/>
<circle cx="371.9" cy="225.5" r="2.3" fill="#008000"/>
<circle cx="371.9" cy="229.2" r="2.3" fill="#008000"/>
<circle cx="371.9" cy="233.0" r="2.3" fill="#008000"/>
<circle cx="371.9" cy="236.8" r="2.3" fill="#008000"/>
<circle cx="371.9" cy="240.6" r="2.3" fill="#008000"/>
<circle cx="371.9" cy="244.4" r="2.3" fill="#008000"/>
<circle cx="371.9" cy="248.2" r="2.3" fill="#008000"/>
<circle cx="371.9" cy="251.9" r="2.3" fill="#008000"/>
<circle cx="375.7" cy="225.5" r="2.3" fill="#008000"/>
<circle cx="375.7" cy="229.2" r="2.3" fill="#008000"/>
<circle cx="375.7" cy="233.0" r="2.3" fill="#008000"/>
<circle cx="375.7" cy="236.8" r="2.3" fill="#008000"/>
<circle cx="375.7" cy="240.6" r="2.3" fill="#008000"/>
<circle cx="375.7" cy="244.4" r="2.3" fill="#008000"/>
<circle cx="375.7" cy="248.2" r="2.3" fill="#008000"/>
<circle cx="375.7" cy="251.9" r="2.3" fill="#008000"/>
<circle cx="379.5" cy="225.5" r="2.3" fill="#008000"/>
<circle cx="379.5" cy="229.2" r="2.3" fill="#008000"/>
<circle cx="379.5" cy="233.0" r="2.3" fill="#008000"/>
<circle cx="379.5" cy="236.8" r="2.3" fill="#008000"/>
<circle cx="379.5" cy="240.6" r="2.3" fill="#008000"/>
<circle cx="379.5" cy="244.4" r="2.3" fill="#008000"/>
<circle cx="379.5" cy="248.2" r="2.3" fill="#008000"/>
<circle cx="379.5" cy="251.9" r="2.3" fill="#008000"/>
<circle cx="383.2" cy="225.5" r="2.3" fill="#008000"/>
<circle cx="383.2" cy="229.2" r="2.3" fill="#008000"/>
<circle cx="383.2" cy="233.0" r="2.3" fill="#008000"/>
<circle cx="383.2" cy="236.8" r="2.3" fill="#008000"/>
<circle cx="383.2" cy="240.6" r="2.3" fill="#008000"/>
<circle cx="383.2" cy="244.4" r="2.3" fill="#008000"/>
<circle cx="383.2" cy="248.2" r="2.3" fill="#008000"/>
<circle cx="383.2" cy="251.9" r="2.3" fill="#008000"/>
<circle cx="387.0" cy="225.5" r="2.3" fill="#008000"/>
<circle cx="387.0" cy="229.2" r="2.3" fill="#008000"/>
<circle cx="387.0" cy="233.0" r="2.3" fill="#008000"/>
<circle cx="387.0" cy="236.8" r="2.3" fill="#008000"/>
<circle cx="387.0" cy="240.6" r="2.3" fill="#008000"/>
<circle cx="387.0" cy="244.4" r="2.3" fill="#008000"/>
<circle cx="387.0" cy="248.2" r="2.3" fill="#008000"/>
<circle cx="387.0" cy="251.9" r="2.3" fill="#008000"/>
<circle cx="367.0" cy="233.6" r="2.3" fill="#ff0000"/>
<circle cx="372.4" cy="239.0" r="2.3" fill="#ff0000"/>
<circle cx="373.8" cy="244.4" r="2.3" fill="#ff0000"/>
<circle cx="379.2" cy="238.3" r="2.3" fill="#ff0000"/>
<circle cx="380.5" cy="242.4" r="2.3" fill="#ff0000"/>
<circle cx="364.3" cy="249.1" r="2.3" fill="#ff0000"/>
<circle cx="371.1" cy="252.5" r="2.3" fill="#ff0000"/>
<circle cx="356.2" cy="225.5" r="2.3" fill="#ff0000"/>
<circle cx="363.0" cy="224.1" r="2.3" fill="#ff0000"/>
<circle cx="377.8" cy="222.1" r="2.3" fill="#ff0000"/>
<circle cx="387.3" cy="226.8" r="2.3" fill="#ff0000"/>
<circle cx="367.6" cy="234.1" r="2.3" fill="#ff0000"/>
<circle cx="373.6" cy="239.5" r="2.3" fill="#ff0000"/>
<circle cx="379.7" cy="238.8" r="2.3" fill="#ff0000"/>
<circle cx="381.1" cy="242.9" r="2.3" fill="#ff0000"/>
<circle cx="367.6" cy="249.0" r="2.3" fill="#ff0000"/>
<circle cx="366.2" cy="254.4" r="2.3" fill="#ff0000"/>
<circle cx="377.0" cy="255.1" r="2.3" fill="#ff0000"/>
<circle cx="373.0" cy="257.1" r="2.3" fill="#ff0000"/>
<circle cx="370.3" cy="259.8" r="2.3" fill="#ff0000"/>
<circle cx="363.5" cy="250.3" r="2.3" fill="#ff0000"/>
<circle cx="364.9" cy="243.6" r="2.3" fill="#ff0000"/>
<circle cx="371.6" cy="244.9" r="2.3" fill="#ff0000"/>
<circle cx="375.7" cy="249.0" r="2.3" fill="#ff0000"/>
<circle cx="360.8" cy="239.5" r="2.3" fill="#ff0000"/>
<circle cx="359.5" cy="253.0" r="2.3" fill="#ff0000"/>
<circle cx="356.8" cy="244.9" r="2.3" fill="#ff0000"/>
<circle cx="362.2" cy="247.6" r="2.3" fill="#ff0000"/>
<circle cx="358.1" cy="231.4" r="2.3" fill="#ff0000"/>
<circle cx="363.5" cy="228.7" r="2.3" fill="#ff0000"/>
<circle cx="383.8" cy="246.3" r="2.3" fill="#008000"/>
<circle cx="386.5" cy="253.0" r="2.3" fill="#008000"/>
<circle cx="390.5" cy="257.1" r="2.3" fill="#008000"/>
<circle cx="394.6" cy="259.8" r="2.3" fill="#008000"/>
<circle cx="385.1" cy="261.1" r="2.3" fill="#008000"/>
<circle cx="381.1" cy="263.8" r="2.3" fill="#008000"/>
<circle cx="377.0" cy="264.5" r="2.3" fill="#008000"/>
</g>
<line x1="347.80" y1="86.60" x2="347.80" y2="266.50" stroke="#222" stroke-width="1.0" stroke-dasharray="4.3 4.42" stroke-dashoffset="8.02"/>
<rect x="308.90" y="86.60" width="155.60" height="179.90" fill="none" stroke="#2a2a2a" stroke-width="1.1"/>
<line x1="308.90" y1="206.53" x2="311.70" y2="206.53" stroke="#222" stroke-width="1.0" />
<line x1="464.50" y1="206.53" x2="461.70" y2="206.53" stroke="#222" stroke-width="1.0" />
<line x1="308.90" y1="146.57" x2="311.70" y2="146.57" stroke="#222" stroke-width="1.0" />
<line x1="464.50" y1="146.57" x2="461.70" y2="146.57" stroke="#222" stroke-width="1.0" />
<line x1="347.80" y1="86.60" x2="347.80" y2="89.40" stroke="#222" stroke-width="1.0" />
<line x1="347.80" y1="266.50" x2="347.80" y2="263.70" stroke="#222" stroke-width="1.0" />
<line x1="386.70" y1="86.60" x2="386.70" y2="89.40" stroke="#222" stroke-width="1.0" />
<line x1="386.70" y1="266.50" x2="386.70" y2="263.70" stroke="#222" stroke-width="1.0" />
<line x1="425.60" y1="86.60" x2="425.60" y2="89.40" stroke="#222" stroke-width="1.0" />
<line x1="425.60" y1="266.50" x2="425.60" y2="263.70" stroke="#222" stroke-width="1.0" />
<text x="305.60" y="270.60" font-size="11.5" text-anchor="end"  style="">0</text>
<text x="305.60" y="210.63" font-size="11.5" text-anchor="end"  style="">2</text>
<text x="305.60" y="150.67" font-size="11.5" text-anchor="end"  style="">4</text>
<text x="305.60" y="90.70" font-size="11.5" text-anchor="end"  style="">6</text>
<text x="308.90" y="278.60" font-size="11.5" text-anchor="middle" textLength="28.4" lengthAdjust="spacingAndGlyphs" style="">&#8722;0.05</text>
<text x="347.80" y="278.60" font-size="11.5" text-anchor="middle" textLength="20.4" lengthAdjust="spacingAndGlyphs" style="">0.00</text>
<text x="386.70" y="278.60" font-size="11.5" text-anchor="middle" textLength="20.4" lengthAdjust="spacingAndGlyphs" style="">0.05</text>
<text x="425.60" y="278.60" font-size="11.5" text-anchor="middle" textLength="20.4" lengthAdjust="spacingAndGlyphs" style="">0.10</text>
<text x="464.50" y="278.60" font-size="11.5" text-anchor="middle" textLength="20.4" lengthAdjust="spacingAndGlyphs" style="">0.15</text>
<text x="441.40" y="111.9" font-size="14" text-anchor="middle" textLength="16.6" lengthAdjust="spacingAndGlyphs">(<tspan style="stroke-width:0.45px">b</tspan>)</text>
<g transform="translate(291.30,210.9) rotate(-90)"><text x="0" y="0" font-size="11.5" textLength="7.8" lengthAdjust="spacingAndGlyphs">&#934;</text><text x="10.4" y="-5.3" font-size="8.2" font-style="italic" textLength="18.6" lengthAdjust="spacingAndGlyphs">ELM</text><text x="10.0" y="2.2" font-size="8.8" font-style="italic" textLength="16.0" lengthAdjust="spacingAndGlyphs">BE2</text><text x="33.8" y="0" font-size="11.5" textLength="23.4" lengthAdjust="spacingAndGlyphs">[&#215;10</text><text x="57.4" y="-4.8" font-size="8.2" textLength="7.0" lengthAdjust="spacingAndGlyphs">11</text><text x="64.2" y="0" font-size="11.5">]</text></g>
<g font-size="12"><text x="364.10" y="291.1" textLength="7.0" lengthAdjust="spacingAndGlyphs">&#8722;</text><text x="372.30" y="291.1" font-size="12.8">&#916;</text><text x="381.30" y="291.1" font-style="italic" font-size="12.5">n</text><text x="388.10" y="293.0" font-size="8.5" font-style="italic">e</text><text x="392.70" y="292.70000000000005" font-size="12.5" textLength="4.6" lengthAdjust="spacingAndGlyphs">/</text><text x="398.50" y="291.1" font-style="italic" font-size="12.5">n</text><text x="405.30" y="293.0" font-size="8.5" font-style="italic">e</text></g>
<line x1="382.10" y1="283.70" x2="387.20" y2="283.70" stroke="#000" stroke-width="0.7" />
<line x1="399.30" y1="283.70" x2="404.40" y2="283.70" stroke="#000" stroke-width="0.7" />
<rect x="203.20" y="254.50" width="5.00" height="12.00" fill="#0000ff" stroke="#000" stroke-width="1.0"/>
<rect x="203.20" y="242.50" width="6.20" height="12.00" fill="#0000ff" stroke="#000" stroke-width="1.0"/>
<rect x="203.20" y="230.50" width="1.40" height="12.00" fill="#ff0000" stroke="#000" stroke-width="1.0"/>
<rect x="204.60" y="230.50" width="8.40" height="12.00" fill="#0000ff" stroke="#000" stroke-width="1.0"/>
<rect x="213.00" y="230.50" width="9.80" height="12.00" fill="#008000" stroke="#000" stroke-width="1.0"/>
<rect x="203.20" y="218.50" width="6.10" height="12.00" fill="#ff0000" stroke="#000" stroke-width="1.0"/>
<rect x="209.30" y="218.50" width="0.40" height="12.00" fill="#0000ff" stroke="#000" stroke-width="1.0"/>
<rect x="209.70" y="218.50" width="13.40" height="12.00" fill="#008000" stroke="#000" stroke-width="1.0"/>
<rect x="203.20" y="206.50" width="6.80" height="12.00" fill="#ff0000" stroke="#000" stroke-width="1.0"/>
<rect x="210.00" y="206.50" width="12.80" height="12.00" fill="#008000" stroke="#000" stroke-width="1.0"/>
<rect x="203.20" y="194.50" width="8.00" height="12.00" fill="#ff0000" stroke="#000" stroke-width="1.0"/>
<rect x="211.20" y="194.50" width="4.50" height="12.00" fill="#008000" stroke="#000" stroke-width="1.0"/>
<rect x="203.20" y="182.50" width="7.60" height="12.00" fill="#ff0000" stroke="#000" stroke-width="1.0"/>
<rect x="210.80" y="182.50" width="5.10" height="12.00" fill="#008000" stroke="#000" stroke-width="1.0"/>
<rect x="203.20" y="170.50" width="6.60" height="12.00" fill="#ff0000" stroke="#000" stroke-width="1.0"/>
<rect x="209.80" y="170.50" width="5.80" height="12.00" fill="#008000" stroke="#000" stroke-width="1.0"/>
<rect x="203.20" y="158.50" width="3.90" height="12.00" fill="#ff0000" stroke="#000" stroke-width="1.0"/>
<rect x="207.10" y="158.50" width="2.00" height="12.00" fill="#0000ff" stroke="#000" stroke-width="1.0"/>
<rect x="203.20" y="146.50" width="1.60" height="12.00" fill="#ff0000" stroke="#000" stroke-width="1.0"/>
<rect x="204.80" y="146.50" width="2.70" height="12.00" fill="#0000ff" stroke="#000" stroke-width="1.0"/>
<rect x="203.20" y="134.50" width="1.50" height="12.00" fill="#ff0000" stroke="#000" stroke-width="1.0"/>
<rect x="204.70" y="134.50" width="3.10" height="12.00" fill="#0000ff" stroke="#000" stroke-width="1.0"/>
<rect x="203.20" y="122.50" width="0.50" height="12.00" fill="#ff0000" stroke="#000" stroke-width="1.0"/>
<rect x="203.20" y="110.50" width="0.40" height="12.00" fill="#ff0000" stroke="#000" stroke-width="1.0"/>
<line x1="203.20" y1="189.10" x2="254.50" y2="189.10" stroke="#ff0000" stroke-width="1.3" stroke-dasharray="1.3 3.7" stroke-dashoffset="0"/>
<line x1="203.20" y1="202.60" x2="254.50" y2="202.60" stroke="#008000" stroke-width="1.3" stroke-dasharray="1.3 3.7" stroke-dashoffset="2.5"/>
<line x1="203.20" y1="202.60" x2="254.50" y2="202.60" stroke="#0000ff" stroke-width="1.3" stroke-dasharray="1.3 3.7" stroke-dashoffset="0"/>
<line x1="247.00" y1="156.00" x2="247.00" y2="222.00" stroke="#ff0000" stroke-width="1.1" stroke-opacity="0.72"/>
<line x1="245.40" y1="156.00" x2="248.60" y2="156.00" stroke="#ff0000" stroke-width="1.1" stroke-opacity="0.72"/>
<line x1="245.40" y1="222.00" x2="248.60" y2="222.00" stroke="#ff0000" stroke-width="1.1" stroke-opacity="0.72"/>
<line x1="249.90" y1="165.70" x2="249.90" y2="237.40" stroke="#008000" stroke-width="1.1" stroke-opacity="0.72"/>
<line x1="248.30" y1="165.70" x2="251.50" y2="165.70" stroke="#008000" stroke-width="1.1" stroke-opacity="0.72"/>
<line x1="248.30" y1="237.40" x2="251.50" y2="237.40" stroke="#008000" stroke-width="1.1" stroke-opacity="0.72"/>
<line x1="252.20" y1="168.60" x2="252.20" y2="237.40" stroke="#0000ff" stroke-width="1.1" stroke-opacity="0.72"/>
<line x1="250.60" y1="168.60" x2="253.80" y2="168.60" stroke="#0000ff" stroke-width="1.1" stroke-opacity="0.72"/>
<line x1="250.60" y1="237.40" x2="253.80" y2="237.40" stroke="#0000ff" stroke-width="1.1" stroke-opacity="0.72"/>
<rect x="203.20" y="86.60" width="51.30" height="179.90" fill="none" stroke="#2a2a2a" stroke-width="1.1"/>
<line x1="216.02" y1="86.60" x2="216.02" y2="89.40" stroke="#222" stroke-width="1.0" />
<line x1="216.02" y1="266.50" x2="216.02" y2="263.70" stroke="#222" stroke-width="1.0" />
<line x1="228.85" y1="86.60" x2="228.85" y2="89.40" stroke="#222" stroke-width="1.0" />
<line x1="228.85" y1="266.50" x2="228.85" y2="263.70" stroke="#222" stroke-width="1.0" />
<line x1="241.68" y1="86.60" x2="241.68" y2="89.40" stroke="#222" stroke-width="1.0" />
<line x1="241.68" y1="266.50" x2="241.68" y2="263.70" stroke="#222" stroke-width="1.0" />
<line x1="203.20" y1="206.53" x2="206.00" y2="206.53" stroke="#222" stroke-width="1.0" />
<line x1="254.50" y1="206.53" x2="251.70" y2="206.53" stroke="#222" stroke-width="1.0" />
<line x1="203.20" y1="146.57" x2="206.00" y2="146.57" stroke="#222" stroke-width="1.0" />
<line x1="254.50" y1="146.57" x2="251.70" y2="146.57" stroke="#222" stroke-width="1.0" />
<text transform="translate(199.55,83.8) rotate(90)" font-size="11.5" text-anchor="end">0</text>
<text transform="translate(212.37,83.8) rotate(90)" font-size="11.5" text-anchor="end">50</text>
<text transform="translate(225.20,83.8) rotate(90)" font-size="11.5" text-anchor="end">100</text>
<text transform="translate(238.03,83.8) rotate(90)" font-size="11.5" text-anchor="end">150</text>
<text transform="translate(250.85,83.8) rotate(90)" font-size="11.5" text-anchor="end">200</text>
<g font-style="italic"><text x="213.60" y="60.9" font-size="12">N</text><text x="222.40" y="62.3" font-size="8.6" textLength="18.8" lengthAdjust="spacingAndGlyphs">ELM</text></g>
<rect x="475.50" y="254.50" width="4.00" height="12.00" fill="#ff0000" stroke="#000" stroke-width="1.0"/>
<rect x="479.50" y="254.50" width="28.50" height="12.00" fill="#008000" stroke="#000" stroke-width="1.0"/>
<rect x="475.50" y="242.50" width="15.80" height="12.00" fill="#ff0000" stroke="#000" stroke-width="1.0"/>
<rect x="491.30" y="242.50" width="12.40" height="12.00" fill="#008000" stroke="#000" stroke-width="1.0"/>
<rect x="475.50" y="230.50" width="8.70" height="12.00" fill="#ff0000" stroke="#000" stroke-width="1.0"/>
<rect x="484.20" y="230.50" width="17.10" height="12.00" fill="#008000" stroke="#000" stroke-width="1.0"/>
<rect x="475.50" y="218.50" width="4.50" height="12.00" fill="#ff0000" stroke="#000" stroke-width="1.0"/>
<rect x="480.00" y="218.50" width="1.00" height="12.00" fill="#0000ff" stroke="#000" stroke-width="1.0"/>
<rect x="481.00" y="218.50" width="9.70" height="12.00" fill="#008000" stroke="#000" stroke-width="1.0"/>
<rect x="475.50" y="206.50" width="4.30" height="12.00" fill="#ff0000" stroke="#000" stroke-width="1.0"/>
<rect x="479.80" y="206.50" width="1.70" height="12.00" fill="#0000ff" stroke="#000" stroke-width="1.0"/>
<rect x="481.50" y="206.50" width="1.70" height="12.00" fill="#008000" stroke="#000" stroke-width="1.0"/>
<rect x="475.50" y="194.50" width="4.00" height="12.00" fill="#ff0000" stroke="#000" stroke-width="1.0"/>
<rect x="479.50" y="194.50" width="5.00" height="12.00" fill="#0000ff" stroke="#000" stroke-width="1.0"/>
<rect x="475.50" y="182.50" width="2.50" height="12.00" fill="#ff0000" stroke="#000" stroke-width="1.0"/>
<rect x="478.00" y="182.50" width="7.00" height="12.00" fill="#0000ff" stroke="#000" stroke-width="1.0"/>
<rect x="475.50" y="170.50" width="1.10" height="12.00" fill="#ff0000" stroke="#000" stroke-width="1.0"/>
<rect x="476.60" y="170.50" width="5.10" height="12.00" fill="#0000ff" stroke="#000" stroke-width="1.0"/>
<rect x="475.50" y="158.50" width="0.40" height="12.00" fill="#ff0000" stroke="#000" stroke-width="1.0"/>
<rect x="475.90" y="158.50" width="4.20" height="12.00" fill="#0000ff" stroke="#000" stroke-width="1.0"/>
<rect x="475.50" y="146.50" width="0.50" height="12.00" fill="#ff0000" stroke="#000" stroke-width="1.0"/>
<rect x="476.00" y="146.50" width="3.60" height="12.00" fill="#0000ff" stroke="#000" stroke-width="1.0"/>
<rect x="475.50" y="134.50" width="0.10" height="12.00" fill="#ff0000" stroke="#000" stroke-width="1.0"/>
<rect x="475.60" y="134.50" width="2.50" height="12.00" fill="#0000ff" stroke="#000" stroke-width="1.0"/>
<rect x="475.50" y="122.50" width="0.50" height="12.00" fill="#ff0000" stroke="#000" stroke-width="1.0"/>
<rect x="475.50" y="110.50" width="0.30" height="12.00" fill="#ff0000" stroke="#000" stroke-width="1.0"/>
<rect x="475.50" y="98.50" width="0.30" height="12.00" fill="#ff0000" stroke="#000" stroke-width="1.0"/>
<line x1="475.50" y1="227.20" x2="526.80" y2="227.20" stroke="#ff0000" stroke-width="1.3" stroke-dasharray="1.3 3.7" stroke-dashoffset="0"/>
<line x1="475.50" y1="233.10" x2="526.80" y2="233.10" stroke="#008000" stroke-width="1.3" stroke-dasharray="1.3 3.7" stroke-dashoffset="0"/>
<line x1="475.50" y1="206.40" x2="526.80" y2="206.40" stroke="#0000ff" stroke-width="1.3" stroke-dasharray="1.3 3.7" stroke-dashoffset="0"/>
<line x1="518.80" y1="198.90" x2="518.80" y2="255.60" stroke="#ff0000" stroke-width="1.1" stroke-opacity="0.72"/>
<line x1="517.20" y1="198.90" x2="520.40" y2="198.90" stroke="#ff0000" stroke-width="1.1" stroke-opacity="0.72"/>
<line x1="517.20" y1="255.60" x2="520.40" y2="255.60" stroke="#ff0000" stroke-width="1.1" stroke-opacity="0.72"/>
<line x1="521.80" y1="205.40" x2="521.80" y2="261.00" stroke="#008000" stroke-width="1.1" stroke-opacity="0.72"/>
<line x1="520.20" y1="205.40" x2="523.40" y2="205.40" stroke="#008000" stroke-width="1.1" stroke-opacity="0.72"/>
<line x1="520.20" y1="261.00" x2="523.40" y2="261.00" stroke="#008000" stroke-width="1.1" stroke-opacity="0.72"/>
<line x1="524.40" y1="170.60" x2="524.40" y2="241.60" stroke="#0000ff" stroke-width="1.1" stroke-opacity="0.72"/>
<line x1="522.80" y1="170.60" x2="526.00" y2="170.60" stroke="#0000ff" stroke-width="1.1" stroke-opacity="0.72"/>
<line x1="522.80" y1="241.60" x2="526.00" y2="241.60" stroke="#0000ff" stroke-width="1.1" stroke-opacity="0.72"/>
<rect x="475.50" y="86.60" width="51.30" height="179.90" fill="none" stroke="#2a2a2a" stroke-width="1.1"/>
<line x1="488.32" y1="86.60" x2="488.32" y2="89.40" stroke="#222" stroke-width="1.0" />
<line x1="488.32" y1="266.50" x2="488.32" y2="263.70" stroke="#222" stroke-width="1.0" />
<line x1="501.15" y1="86.60" x2="501.15" y2="89.40" stroke="#222" stroke-width="1.0" />
<line x1="501.15" y1="266.50" x2="501.15" y2="263.70" stroke="#222" stroke-width="1.0" />
<line x1="513.98" y1="86.60" x2="513.98" y2="89.40" stroke="#222" stroke-width="1.0" />
<line x1="513.98" y1="266.50" x2="513.98" y2="263.70" stroke="#222" stroke-width="1.0" />
<line x1="475.50" y1="206.53" x2="478.30" y2="206.53" stroke="#222" stroke-width="1.0" />
<line x1="526.80" y1="206.53" x2="524.00" y2="206.53" stroke="#222" stroke-width="1.0" />
<line x1="475.50" y1="146.57" x2="478.30" y2="146.57" stroke="#222" stroke-width="1.0" />
<line x1="526.80" y1="146.57" x2="524.00" y2="146.57" stroke="#222" stroke-width="1.0" />
<text transform="translate(471.85,83.8) rotate(90)" font-size="11.5" text-anchor="end">0</text>
<text transform="translate(484.68,83.8) rotate(90)" font-size="11.5" text-anchor="end">50</text>
<text transform="translate(497.50,83.8) rotate(90)" font-size="11.5" text-anchor="end">100</text>
<text transform="translate(510.33,83.8) rotate(90)" font-size="11.5" text-anchor="end">150</text>
<text transform="translate(523.15,83.8) rotate(90)" font-size="11.5" text-anchor="end">200</text>
<g font-style="italic"><text x="485.90" y="60.9" font-size="12">N</text><text x="494.70" y="62.3" font-size="8.6" textLength="18.8" lengthAdjust="spacingAndGlyphs">ELM</text></g>
</svg></body></html>
